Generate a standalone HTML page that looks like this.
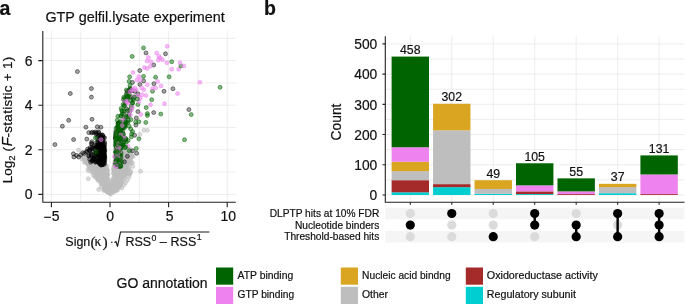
<!DOCTYPE html>
<html><head><meta charset="utf-8"><style>
html,body{margin:0;padding:0;background:#fff;overflow:hidden}
svg{display:block}
text{font-family:"Liberation Sans", sans-serif;fill:#111;stroke:#111;stroke-width:0.2px}
svg{will-change:transform}
</style></head><body>
<svg width="685" height="304" viewBox="0 0 685 304">
<rect x="42.8" y="31.0" width="193.0" height="171.3" fill="#fff"/>
<path d="M51.40 31.0V202.3M80.70 31.0V202.3M110.00 31.0V202.3M139.30 31.0V202.3M168.60 31.0V202.3M197.90 31.0V202.3M227.20 31.0V202.3M42.8 194.40H235.8M42.8 172.10H235.8M42.8 149.80H235.8M42.8 127.50H235.8M42.8 105.20H235.8M42.8 82.90H235.8M42.8 60.60H235.8M42.8 38.30H235.8" stroke="#ebebeb" stroke-width="0.9" fill="none"/>
<g fill="#bebebe" stroke="#bebebe" fill-opacity="0.55" stroke-opacity="0.5" stroke-width="1"><circle cx="100.2" cy="155.8" r="2.0"/><circle cx="116.5" cy="152.3" r="2.0"/><circle cx="105.2" cy="186.5" r="2.0"/><circle cx="90.2" cy="159.1" r="2.0"/><circle cx="126.9" cy="162.1" r="2.0"/><circle cx="115.9" cy="165.9" r="2.0"/><circle cx="118.0" cy="168.4" r="2.0"/><circle cx="99.7" cy="175.5" r="2.0"/><circle cx="96.2" cy="175.0" r="2.0"/><circle cx="110.3" cy="188.6" r="2.0"/><circle cx="120.5" cy="162.0" r="2.0"/><circle cx="104.9" cy="183.3" r="2.0"/><circle cx="122.2" cy="175.0" r="2.0"/><circle cx="127.8" cy="163.2" r="2.0"/><circle cx="118.8" cy="175.9" r="2.0"/><circle cx="107.7" cy="179.1" r="2.0"/><circle cx="125.1" cy="161.9" r="2.0"/><circle cx="103.3" cy="179.3" r="2.0"/><circle cx="90.5" cy="160.2" r="2.0"/><circle cx="111.5" cy="189.0" r="2.0"/><circle cx="97.9" cy="167.8" r="2.0"/><circle cx="92.8" cy="159.5" r="2.0"/><circle cx="95.7" cy="171.0" r="2.0"/><circle cx="102.5" cy="174.7" r="2.0"/><circle cx="117.8" cy="151.4" r="2.0"/><circle cx="103.6" cy="167.1" r="2.0"/><circle cx="94.4" cy="156.4" r="2.0"/><circle cx="101.0" cy="151.4" r="2.0"/><circle cx="89.1" cy="165.5" r="2.0"/><circle cx="96.6" cy="164.7" r="2.0"/><circle cx="102.2" cy="154.6" r="2.0"/><circle cx="107.3" cy="170.9" r="2.0"/><circle cx="101.1" cy="161.0" r="2.0"/><circle cx="125.4" cy="156.3" r="2.0"/><circle cx="110.4" cy="193.3" r="2.0"/><circle cx="97.1" cy="165.6" r="2.0"/><circle cx="110.6" cy="184.3" r="2.0"/><circle cx="100.5" cy="159.1" r="2.0"/><circle cx="95.3" cy="172.4" r="2.0"/><circle cx="101.8" cy="150.3" r="2.0"/><circle cx="95.0" cy="159.3" r="2.0"/><circle cx="93.8" cy="158.3" r="2.0"/><circle cx="115.2" cy="189.8" r="2.0"/><circle cx="126.0" cy="170.7" r="2.0"/><circle cx="116.6" cy="185.2" r="2.0"/><circle cx="121.5" cy="170.7" r="2.0"/><circle cx="120.2" cy="156.7" r="2.0"/><circle cx="101.5" cy="173.9" r="2.0"/><circle cx="110.3" cy="191.3" r="2.0"/><circle cx="105.7" cy="188.5" r="2.0"/><circle cx="125.3" cy="158.6" r="2.0"/><circle cx="96.6" cy="162.3" r="2.0"/><circle cx="96.0" cy="175.6" r="2.0"/><circle cx="97.0" cy="168.0" r="2.0"/><circle cx="101.7" cy="169.8" r="2.0"/><circle cx="113.2" cy="190.0" r="2.0"/><circle cx="92.6" cy="170.4" r="2.0"/><circle cx="120.3" cy="174.2" r="2.0"/><circle cx="100.3" cy="172.5" r="2.0"/><circle cx="111.8" cy="184.5" r="2.0"/><circle cx="96.4" cy="161.5" r="2.0"/><circle cx="122.6" cy="172.0" r="2.0"/><circle cx="114.6" cy="171.9" r="2.0"/><circle cx="106.6" cy="173.2" r="2.0"/><circle cx="107.9" cy="191.7" r="2.0"/><circle cx="112.0" cy="191.7" r="2.0"/><circle cx="126.0" cy="155.2" r="2.0"/><circle cx="87.6" cy="159.9" r="2.0"/><circle cx="117.0" cy="155.5" r="2.0"/><circle cx="103.9" cy="171.1" r="2.0"/><circle cx="92.1" cy="168.5" r="2.0"/><circle cx="93.8" cy="163.4" r="2.0"/><circle cx="120.1" cy="149.9" r="2.0"/><circle cx="115.2" cy="172.2" r="2.0"/><circle cx="89.2" cy="161.0" r="2.0"/><circle cx="97.5" cy="154.9" r="2.0"/><circle cx="124.9" cy="160.7" r="2.0"/><circle cx="112.5" cy="180.7" r="2.0"/><circle cx="118.4" cy="168.3" r="2.0"/><circle cx="115.7" cy="185.3" r="2.0"/><circle cx="111.7" cy="191.0" r="2.0"/><circle cx="97.4" cy="154.9" r="2.0"/><circle cx="99.6" cy="162.8" r="2.0"/><circle cx="122.0" cy="162.1" r="2.0"/><circle cx="101.4" cy="149.8" r="2.0"/><circle cx="96.5" cy="149.7" r="2.0"/><circle cx="120.7" cy="174.0" r="2.0"/><circle cx="93.5" cy="170.5" r="2.0"/><circle cx="130.7" cy="153.8" r="2.0"/><circle cx="124.9" cy="168.6" r="2.0"/><circle cx="108.8" cy="186.8" r="2.0"/><circle cx="103.7" cy="172.0" r="2.0"/><circle cx="119.3" cy="177.8" r="2.0"/><circle cx="104.2" cy="164.7" r="2.0"/><circle cx="96.8" cy="156.4" r="2.0"/><circle cx="98.1" cy="160.0" r="2.0"/><circle cx="98.7" cy="169.8" r="2.0"/><circle cx="91.9" cy="169.2" r="2.0"/><circle cx="99.5" cy="165.2" r="2.0"/><circle cx="94.0" cy="171.9" r="2.0"/><circle cx="99.2" cy="159.5" r="2.0"/><circle cx="113.3" cy="173.0" r="2.0"/><circle cx="121.5" cy="178.8" r="2.0"/><circle cx="103.5" cy="163.8" r="2.0"/><circle cx="120.2" cy="178.1" r="2.0"/><circle cx="109.2" cy="186.8" r="2.0"/><circle cx="113.2" cy="189.4" r="2.0"/><circle cx="118.1" cy="180.4" r="2.0"/><circle cx="90.7" cy="165.3" r="2.0"/><circle cx="115.3" cy="179.8" r="2.0"/><circle cx="117.0" cy="152.0" r="2.0"/><circle cx="120.8" cy="160.4" r="2.0"/><circle cx="87.7" cy="161.0" r="2.0"/><circle cx="120.5" cy="158.3" r="2.0"/><circle cx="108.0" cy="180.0" r="2.0"/><circle cx="122.3" cy="176.9" r="2.0"/><circle cx="116.1" cy="152.5" r="2.0"/><circle cx="91.4" cy="160.5" r="2.0"/><circle cx="121.2" cy="162.8" r="2.0"/><circle cx="87.0" cy="161.2" r="2.0"/><circle cx="117.6" cy="180.4" r="2.0"/><circle cx="117.8" cy="162.2" r="2.0"/><circle cx="128.7" cy="158.0" r="2.0"/><circle cx="125.0" cy="172.0" r="2.0"/><circle cx="91.0" cy="164.6" r="2.0"/><circle cx="126.0" cy="154.4" r="2.0"/><circle cx="129.1" cy="162.1" r="2.0"/><circle cx="102.6" cy="166.8" r="2.0"/><circle cx="102.0" cy="168.4" r="2.0"/><circle cx="97.8" cy="151.2" r="2.0"/><circle cx="96.5" cy="161.0" r="2.0"/><circle cx="115.5" cy="190.4" r="2.0"/><circle cx="120.0" cy="151.2" r="2.0"/><circle cx="120.6" cy="169.4" r="2.0"/><circle cx="121.6" cy="178.2" r="2.0"/><circle cx="98.3" cy="151.2" r="2.0"/><circle cx="130.3" cy="154.8" r="2.0"/><circle cx="116.8" cy="162.6" r="2.0"/><circle cx="92.4" cy="156.3" r="2.0"/><circle cx="101.1" cy="153.1" r="2.0"/><circle cx="96.0" cy="160.7" r="2.0"/><circle cx="112.5" cy="189.2" r="2.0"/><circle cx="121.5" cy="167.7" r="2.0"/><circle cx="104.7" cy="172.7" r="2.0"/><circle cx="102.8" cy="164.3" r="2.0"/><circle cx="87.1" cy="161.6" r="2.0"/><circle cx="127.1" cy="158.8" r="2.0"/><circle cx="97.6" cy="160.3" r="2.0"/><circle cx="104.0" cy="169.2" r="2.0"/><circle cx="127.6" cy="150.0" r="2.0"/><circle cx="116.4" cy="183.6" r="2.0"/><circle cx="106.9" cy="174.0" r="2.0"/><circle cx="116.3" cy="162.8" r="2.0"/><circle cx="90.4" cy="160.4" r="2.0"/><circle cx="115.8" cy="180.6" r="2.0"/><circle cx="103.4" cy="159.1" r="2.0"/><circle cx="99.1" cy="169.9" r="2.0"/><circle cx="95.7" cy="160.2" r="2.0"/><circle cx="99.4" cy="150.0" r="2.0"/><circle cx="105.0" cy="160.7" r="2.0"/><circle cx="100.9" cy="168.1" r="2.0"/><circle cx="118.1" cy="158.0" r="2.0"/><circle cx="125.0" cy="159.5" r="2.0"/><circle cx="95.2" cy="167.9" r="2.0"/><circle cx="91.3" cy="166.8" r="2.0"/><circle cx="121.3" cy="150.4" r="2.0"/><circle cx="117.2" cy="166.2" r="2.0"/><circle cx="102.7" cy="164.0" r="2.0"/><circle cx="98.0" cy="164.9" r="2.0"/><circle cx="125.1" cy="168.6" r="2.0"/><circle cx="93.7" cy="165.5" r="2.0"/><circle cx="128.8" cy="150.4" r="2.0"/><circle cx="104.5" cy="185.8" r="2.0"/><circle cx="122.3" cy="150.8" r="2.0"/><circle cx="130.0" cy="160.6" r="2.0"/><circle cx="101.0" cy="161.3" r="2.0"/><circle cx="99.8" cy="161.5" r="2.0"/><circle cx="95.7" cy="170.5" r="2.0"/><circle cx="103.3" cy="160.4" r="2.0"/><circle cx="105.5" cy="171.4" r="2.0"/><circle cx="130.4" cy="157.3" r="2.0"/><circle cx="114.4" cy="163.8" r="2.0"/><circle cx="100.0" cy="165.4" r="2.0"/><circle cx="123.1" cy="152.6" r="2.0"/><circle cx="96.4" cy="151.9" r="2.0"/><circle cx="97.2" cy="152.8" r="2.0"/><circle cx="119.5" cy="169.2" r="2.0"/><circle cx="95.7" cy="167.9" r="2.0"/><circle cx="115.0" cy="179.5" r="2.0"/><circle cx="117.2" cy="154.5" r="2.0"/><circle cx="126.0" cy="162.3" r="2.0"/><circle cx="120.9" cy="158.0" r="2.0"/><circle cx="96.4" cy="160.1" r="2.0"/><circle cx="107.7" cy="186.1" r="2.0"/><circle cx="90.0" cy="157.6" r="2.0"/><circle cx="127.3" cy="169.3" r="2.0"/><circle cx="113.8" cy="177.1" r="2.0"/><circle cx="94.9" cy="165.7" r="2.0"/><circle cx="91.1" cy="158.2" r="2.0"/><circle cx="96.7" cy="176.2" r="2.0"/><circle cx="116.6" cy="158.2" r="2.0"/><circle cx="117.9" cy="157.4" r="2.0"/><circle cx="99.6" cy="158.2" r="2.0"/><circle cx="123.8" cy="173.8" r="2.0"/><circle cx="103.8" cy="173.9" r="2.0"/><circle cx="116.0" cy="153.1" r="2.0"/><circle cx="104.5" cy="161.8" r="2.0"/><circle cx="99.6" cy="174.7" r="2.0"/><circle cx="101.9" cy="167.9" r="2.0"/><circle cx="102.2" cy="157.9" r="2.0"/><circle cx="120.4" cy="158.2" r="2.0"/><circle cx="105.2" cy="186.2" r="2.0"/><circle cx="116.0" cy="190.2" r="2.0"/><circle cx="102.5" cy="171.9" r="2.0"/><circle cx="91.3" cy="161.8" r="2.0"/><circle cx="110.1" cy="190.9" r="2.0"/><circle cx="125.2" cy="156.3" r="2.0"/><circle cx="123.3" cy="159.1" r="2.0"/><circle cx="104.2" cy="187.3" r="2.0"/><circle cx="125.5" cy="157.3" r="2.0"/><circle cx="94.9" cy="167.1" r="2.0"/><circle cx="90.2" cy="160.2" r="2.0"/><circle cx="121.9" cy="150.7" r="2.0"/><circle cx="125.9" cy="154.3" r="2.0"/><circle cx="114.0" cy="173.9" r="2.0"/><circle cx="115.4" cy="162.9" r="2.0"/><circle cx="105.0" cy="175.4" r="2.0"/><circle cx="105.3" cy="178.8" r="2.0"/><circle cx="106.3" cy="168.9" r="2.0"/><circle cx="90.4" cy="168.5" r="2.0"/><circle cx="115.8" cy="152.7" r="2.0"/><circle cx="120.7" cy="184.2" r="2.0"/><circle cx="108.6" cy="192.3" r="2.0"/><circle cx="129.8" cy="156.5" r="2.0"/><circle cx="121.8" cy="156.2" r="2.0"/><circle cx="128.8" cy="161.5" r="2.0"/><circle cx="124.8" cy="155.5" r="2.0"/><circle cx="109.1" cy="190.7" r="2.0"/><circle cx="94.4" cy="160.9" r="2.0"/><circle cx="115.8" cy="165.3" r="2.0"/><circle cx="113.0" cy="189.0" r="2.0"/><circle cx="115.5" cy="166.9" r="2.0"/><circle cx="123.9" cy="161.0" r="2.0"/><circle cx="102.0" cy="183.6" r="2.0"/><circle cx="121.2" cy="151.2" r="2.0"/><circle cx="125.0" cy="160.5" r="2.0"/><circle cx="113.3" cy="179.1" r="2.0"/><circle cx="99.6" cy="149.1" r="2.0"/><circle cx="114.8" cy="168.6" r="2.0"/><circle cx="109.6" cy="189.6" r="2.0"/><circle cx="90.6" cy="159.3" r="2.0"/><circle cx="116.7" cy="150.0" r="2.0"/><circle cx="89.3" cy="165.2" r="2.0"/><circle cx="95.2" cy="175.4" r="2.0"/><circle cx="115.2" cy="170.5" r="2.0"/><circle cx="96.2" cy="155.8" r="2.0"/><circle cx="104.1" cy="161.0" r="2.0"/><circle cx="116.3" cy="169.1" r="2.0"/><circle cx="104.3" cy="159.8" r="2.0"/><circle cx="124.7" cy="156.9" r="2.0"/><circle cx="99.5" cy="162.6" r="2.0"/><circle cx="121.3" cy="170.1" r="2.0"/><circle cx="121.1" cy="169.5" r="2.0"/><circle cx="100.8" cy="183.0" r="2.0"/><circle cx="118.8" cy="187.3" r="2.0"/><circle cx="119.6" cy="161.0" r="2.0"/><circle cx="123.4" cy="172.7" r="2.0"/><circle cx="97.3" cy="178.1" r="2.0"/><circle cx="128.0" cy="149.7" r="2.0"/><circle cx="97.0" cy="159.7" r="2.0"/><circle cx="121.3" cy="163.8" r="2.0"/><circle cx="128.0" cy="163.9" r="2.0"/><circle cx="115.5" cy="180.4" r="2.0"/><circle cx="107.5" cy="187.0" r="2.0"/><circle cx="105.9" cy="181.8" r="2.0"/><circle cx="101.2" cy="155.4" r="2.0"/><circle cx="118.6" cy="177.7" r="2.0"/><circle cx="118.9" cy="182.4" r="2.0"/><circle cx="89.4" cy="158.3" r="2.0"/><circle cx="115.7" cy="186.4" r="2.0"/><circle cx="115.6" cy="162.0" r="2.0"/><circle cx="121.9" cy="158.3" r="2.0"/><circle cx="100.0" cy="168.2" r="2.0"/><circle cx="102.4" cy="163.5" r="2.0"/><circle cx="105.8" cy="184.0" r="2.0"/><circle cx="101.3" cy="180.9" r="2.0"/><circle cx="127.1" cy="153.1" r="2.0"/><circle cx="125.0" cy="156.7" r="2.0"/><circle cx="108.6" cy="185.1" r="2.0"/><circle cx="93.2" cy="171.4" r="2.0"/><circle cx="98.2" cy="158.7" r="2.0"/><circle cx="119.0" cy="171.6" r="2.0"/><circle cx="118.9" cy="184.6" r="2.0"/><circle cx="115.4" cy="165.1" r="2.0"/><circle cx="104.1" cy="166.9" r="2.0"/><circle cx="128.5" cy="152.9" r="2.0"/><circle cx="128.4" cy="150.1" r="2.0"/><circle cx="94.3" cy="160.9" r="2.0"/><circle cx="95.7" cy="169.9" r="2.0"/><circle cx="121.6" cy="178.3" r="2.0"/><circle cx="101.4" cy="163.8" r="2.0"/><circle cx="117.1" cy="182.6" r="2.0"/><circle cx="92.5" cy="168.9" r="2.0"/><circle cx="122.7" cy="175.2" r="2.0"/><circle cx="128.3" cy="159.8" r="2.0"/><circle cx="93.6" cy="162.7" r="2.0"/><circle cx="119.2" cy="187.2" r="2.0"/><circle cx="96.4" cy="163.8" r="2.0"/><circle cx="100.4" cy="157.6" r="2.0"/><circle cx="89.1" cy="166.4" r="2.0"/><circle cx="120.7" cy="168.7" r="2.0"/><circle cx="89.3" cy="158.4" r="2.0"/><circle cx="103.4" cy="150.5" r="2.0"/><circle cx="104.0" cy="184.8" r="2.0"/><circle cx="118.7" cy="171.7" r="2.0"/><circle cx="115.6" cy="170.0" r="2.0"/><circle cx="104.2" cy="182.6" r="2.0"/><circle cx="112.7" cy="182.9" r="2.0"/><circle cx="105.1" cy="159.4" r="2.0"/><circle cx="122.7" cy="180.7" r="2.0"/><circle cx="116.1" cy="169.6" r="2.0"/><circle cx="99.7" cy="177.5" r="2.0"/><circle cx="115.5" cy="160.3" r="2.0"/><circle cx="105.2" cy="169.6" r="2.0"/><circle cx="115.1" cy="167.5" r="2.0"/><circle cx="122.9" cy="166.6" r="2.0"/><circle cx="125.4" cy="172.6" r="2.0"/><circle cx="103.6" cy="183.6" r="2.0"/><circle cx="101.8" cy="151.6" r="2.0"/><circle cx="97.7" cy="167.1" r="2.0"/><circle cx="105.0" cy="180.6" r="2.0"/><circle cx="101.6" cy="161.0" r="2.0"/><circle cx="103.6" cy="158.6" r="2.0"/><circle cx="107.5" cy="174.5" r="2.0"/><circle cx="101.7" cy="177.9" r="2.0"/><circle cx="125.7" cy="165.1" r="2.0"/><circle cx="126.5" cy="161.1" r="2.0"/><circle cx="102.8" cy="160.5" r="2.0"/><circle cx="105.3" cy="157.4" r="2.0"/><circle cx="98.1" cy="160.1" r="2.0"/><circle cx="99.1" cy="170.7" r="2.0"/><circle cx="105.4" cy="177.9" r="2.0"/><circle cx="117.0" cy="165.4" r="2.0"/><circle cx="115.7" cy="149.7" r="2.0"/><circle cx="116.8" cy="160.3" r="2.0"/><circle cx="101.3" cy="155.9" r="2.0"/><circle cx="114.4" cy="184.4" r="2.0"/><circle cx="105.9" cy="189.0" r="2.0"/><circle cx="95.7" cy="155.3" r="2.0"/><circle cx="111.0" cy="188.1" r="2.0"/><circle cx="107.4" cy="174.5" r="2.0"/><circle cx="117.3" cy="187.1" r="2.0"/><circle cx="102.7" cy="168.0" r="2.0"/><circle cx="115.9" cy="177.8" r="2.0"/><circle cx="128.9" cy="150.5" r="2.0"/><circle cx="119.9" cy="177.3" r="2.0"/><circle cx="102.3" cy="170.5" r="2.0"/><circle cx="110.3" cy="183.9" r="2.0"/><circle cx="94.5" cy="168.7" r="2.0"/><circle cx="105.1" cy="174.1" r="2.0"/><circle cx="125.3" cy="162.3" r="2.0"/><circle cx="125.4" cy="167.3" r="2.0"/><circle cx="109.3" cy="193.2" r="2.0"/><circle cx="116.7" cy="184.9" r="2.0"/><circle cx="100.5" cy="163.4" r="2.0"/><circle cx="99.0" cy="175.6" r="2.0"/><circle cx="115.7" cy="184.5" r="2.0"/><circle cx="86.5" cy="162.6" r="2.0"/><circle cx="116.9" cy="184.7" r="2.0"/><circle cx="114.8" cy="177.4" r="2.0"/><circle cx="118.8" cy="176.0" r="2.0"/><circle cx="118.0" cy="158.6" r="2.0"/><circle cx="117.4" cy="169.7" r="2.0"/><circle cx="122.1" cy="153.6" r="2.0"/><circle cx="116.8" cy="165.7" r="2.0"/><circle cx="99.1" cy="168.1" r="2.0"/><circle cx="99.9" cy="168.5" r="2.0"/><circle cx="124.5" cy="175.1" r="2.0"/><circle cx="113.6" cy="191.5" r="2.0"/><circle cx="104.6" cy="153.6" r="2.0"/><circle cx="116.2" cy="158.6" r="2.0"/><circle cx="120.0" cy="160.0" r="2.0"/><circle cx="120.7" cy="157.5" r="2.0"/><circle cx="120.5" cy="152.8" r="2.0"/><circle cx="115.4" cy="181.1" r="2.0"/><circle cx="119.9" cy="149.5" r="2.0"/><circle cx="124.9" cy="152.6" r="2.0"/><circle cx="102.4" cy="175.0" r="2.0"/><circle cx="105.9" cy="179.7" r="2.0"/><circle cx="102.2" cy="178.2" r="2.0"/><circle cx="115.5" cy="167.9" r="2.0"/><circle cx="103.3" cy="184.6" r="2.0"/><circle cx="119.2" cy="186.5" r="2.0"/><circle cx="100.6" cy="176.4" r="2.0"/><circle cx="102.8" cy="180.0" r="2.0"/><circle cx="114.1" cy="189.6" r="2.0"/><circle cx="124.4" cy="161.8" r="2.0"/><circle cx="105.1" cy="175.6" r="2.0"/><circle cx="101.3" cy="152.9" r="2.0"/><circle cx="111.7" cy="185.1" r="2.0"/><circle cx="130.6" cy="159.6" r="2.0"/><circle cx="114.3" cy="179.7" r="2.0"/><circle cx="123.6" cy="169.8" r="2.0"/><circle cx="122.6" cy="159.5" r="2.0"/><circle cx="113.0" cy="189.6" r="2.0"/><circle cx="93.5" cy="157.7" r="2.0"/><circle cx="102.1" cy="174.6" r="2.0"/><circle cx="104.1" cy="172.4" r="2.0"/><circle cx="123.4" cy="156.1" r="2.0"/><circle cx="127.3" cy="171.0" r="2.0"/><circle cx="123.0" cy="168.3" r="2.0"/><circle cx="96.7" cy="150.7" r="2.0"/><circle cx="94.0" cy="157.2" r="2.0"/><circle cx="111.9" cy="188.4" r="2.0"/><circle cx="129.5" cy="151.9" r="2.0"/><circle cx="113.9" cy="167.0" r="2.0"/><circle cx="96.9" cy="174.6" r="2.0"/><circle cx="117.5" cy="166.8" r="2.0"/><circle cx="96.8" cy="164.9" r="2.0"/><circle cx="125.9" cy="151.1" r="2.0"/><circle cx="117.8" cy="162.5" r="2.0"/><circle cx="113.6" cy="183.3" r="2.0"/><circle cx="89.3" cy="163.7" r="2.0"/><circle cx="96.9" cy="154.6" r="2.0"/><circle cx="95.9" cy="155.5" r="2.0"/><circle cx="117.9" cy="149.6" r="2.0"/><circle cx="119.9" cy="157.8" r="2.0"/><circle cx="91.0" cy="169.3" r="2.0"/><circle cx="125.2" cy="170.6" r="2.0"/><circle cx="115.4" cy="155.5" r="2.0"/><circle cx="119.7" cy="174.1" r="2.0"/><circle cx="97.3" cy="167.7" r="2.0"/><circle cx="91.8" cy="161.3" r="2.0"/><circle cx="126.0" cy="164.2" r="2.0"/><circle cx="92.4" cy="171.2" r="2.0"/><circle cx="117.4" cy="158.6" r="2.0"/><circle cx="96.9" cy="158.1" r="2.0"/><circle cx="88.9" cy="162.1" r="2.0"/><circle cx="128.8" cy="151.6" r="2.0"/><circle cx="120.3" cy="162.3" r="2.0"/><circle cx="124.4" cy="164.4" r="2.0"/><circle cx="125.6" cy="172.9" r="2.0"/><circle cx="93.3" cy="168.7" r="2.0"/><circle cx="129.6" cy="158.9" r="2.0"/><circle cx="119.6" cy="157.9" r="2.0"/><circle cx="114.4" cy="171.4" r="2.0"/><circle cx="97.7" cy="158.3" r="2.0"/><circle cx="114.6" cy="181.1" r="2.0"/><circle cx="124.6" cy="175.4" r="2.0"/><circle cx="120.6" cy="167.5" r="2.0"/><circle cx="120.1" cy="151.5" r="2.0"/><circle cx="124.5" cy="164.2" r="2.0"/><circle cx="127.6" cy="161.1" r="2.0"/><circle cx="102.4" cy="156.4" r="2.0"/><circle cx="102.6" cy="175.9" r="2.0"/><circle cx="106.3" cy="172.4" r="2.0"/><circle cx="100.0" cy="181.2" r="2.0"/><circle cx="103.1" cy="183.0" r="2.0"/><circle cx="118.9" cy="157.8" r="2.0"/><circle cx="119.1" cy="153.7" r="2.0"/><circle cx="98.0" cy="154.5" r="2.0"/><circle cx="104.3" cy="155.2" r="2.0"/><circle cx="113.6" cy="188.0" r="2.0"/><circle cx="121.3" cy="156.4" r="2.0"/><circle cx="103.4" cy="168.0" r="2.0"/><circle cx="126.0" cy="172.8" r="2.0"/><circle cx="122.8" cy="164.3" r="2.0"/><circle cx="96.0" cy="164.2" r="2.0"/><circle cx="96.5" cy="168.1" r="2.0"/><circle cx="115.6" cy="165.5" r="2.0"/><circle cx="105.7" cy="171.9" r="2.0"/><circle cx="128.2" cy="150.6" r="2.0"/><circle cx="116.1" cy="161.0" r="2.0"/><circle cx="117.9" cy="161.4" r="2.0"/><circle cx="111.1" cy="190.9" r="2.0"/><circle cx="115.1" cy="160.4" r="2.0"/><circle cx="99.3" cy="178.3" r="2.0"/><circle cx="97.4" cy="170.1" r="2.0"/><circle cx="98.7" cy="167.4" r="2.0"/><circle cx="98.4" cy="160.0" r="2.0"/><circle cx="107.0" cy="173.8" r="2.0"/><circle cx="114.6" cy="170.2" r="2.0"/><circle cx="99.5" cy="160.0" r="2.0"/><circle cx="95.1" cy="172.2" r="2.0"/><circle cx="103.2" cy="175.5" r="2.0"/><circle cx="127.1" cy="159.8" r="2.0"/><circle cx="127.6" cy="168.9" r="2.0"/><circle cx="106.0" cy="182.3" r="2.0"/><circle cx="89.5" cy="159.2" r="2.0"/><circle cx="91.7" cy="164.3" r="2.0"/><circle cx="101.6" cy="179.6" r="2.0"/><circle cx="114.8" cy="187.5" r="2.0"/><circle cx="125.1" cy="172.5" r="2.0"/><circle cx="120.9" cy="182.7" r="2.0"/><circle cx="122.0" cy="170.5" r="2.0"/><circle cx="129.7" cy="154.8" r="2.0"/><circle cx="127.5" cy="149.2" r="2.0"/><circle cx="122.3" cy="175.5" r="2.0"/><circle cx="108.9" cy="192.6" r="2.0"/><circle cx="114.4" cy="166.2" r="2.0"/><circle cx="106.6" cy="169.7" r="2.0"/><circle cx="120.2" cy="162.3" r="2.0"/><circle cx="103.5" cy="174.2" r="2.0"/><circle cx="103.2" cy="163.6" r="2.0"/><circle cx="93.2" cy="162.8" r="2.0"/><circle cx="118.3" cy="166.6" r="2.0"/><circle cx="101.9" cy="175.9" r="2.0"/><circle cx="117.8" cy="172.8" r="2.0"/><circle cx="88.9" cy="166.0" r="2.0"/><circle cx="104.0" cy="174.4" r="2.0"/><circle cx="112.7" cy="188.9" r="2.0"/><circle cx="106.0" cy="177.3" r="2.0"/><circle cx="110.5" cy="186.0" r="2.0"/><circle cx="92.5" cy="163.4" r="2.0"/><circle cx="128.4" cy="168.1" r="2.0"/><circle cx="91.8" cy="162.1" r="2.0"/><circle cx="93.4" cy="157.3" r="2.0"/><circle cx="115.5" cy="176.3" r="2.0"/><circle cx="115.8" cy="150.9" r="2.0"/><circle cx="104.6" cy="184.7" r="2.0"/><circle cx="99.3" cy="180.3" r="2.0"/><circle cx="117.4" cy="157.9" r="2.0"/><circle cx="97.3" cy="178.3" r="2.0"/><circle cx="110.6" cy="194.2" r="2.0"/><circle cx="122.0" cy="153.8" r="2.0"/><circle cx="110.1" cy="186.3" r="2.0"/><circle cx="114.7" cy="185.5" r="2.0"/><circle cx="122.5" cy="163.6" r="2.0"/><circle cx="119.8" cy="165.0" r="2.0"/><circle cx="92.5" cy="161.1" r="2.0"/><circle cx="106.5" cy="166.5" r="2.0"/><circle cx="113.1" cy="192.5" r="2.0"/><circle cx="106.0" cy="177.1" r="2.0"/><circle cx="96.5" cy="151.0" r="2.0"/><circle cx="124.8" cy="162.8" r="2.0"/><circle cx="108.8" cy="192.0" r="2.0"/><circle cx="96.1" cy="166.7" r="2.0"/><circle cx="119.9" cy="159.0" r="2.0"/><circle cx="108.2" cy="184.9" r="2.0"/><circle cx="96.2" cy="156.9" r="2.0"/><circle cx="101.9" cy="157.5" r="2.0"/><circle cx="104.2" cy="152.0" r="2.0"/><circle cx="101.6" cy="160.1" r="2.0"/><circle cx="93.6" cy="161.8" r="2.0"/><circle cx="117.2" cy="164.5" r="2.0"/><circle cx="88.6" cy="161.2" r="2.0"/><circle cx="125.8" cy="154.8" r="2.0"/><circle cx="106.2" cy="186.9" r="2.0"/><circle cx="124.2" cy="156.2" r="2.0"/><circle cx="101.6" cy="181.7" r="2.0"/><circle cx="119.3" cy="160.8" r="2.0"/><circle cx="102.4" cy="160.2" r="2.0"/><circle cx="127.6" cy="154.6" r="2.0"/><circle cx="103.2" cy="178.8" r="2.0"/><circle cx="103.5" cy="152.9" r="2.0"/><circle cx="100.1" cy="179.0" r="2.0"/><circle cx="102.1" cy="171.7" r="2.0"/><circle cx="98.8" cy="152.0" r="2.0"/><circle cx="99.6" cy="159.3" r="2.0"/><circle cx="98.1" cy="167.3" r="2.0"/><circle cx="90.6" cy="161.5" r="2.0"/><circle cx="117.2" cy="164.9" r="2.0"/><circle cx="104.6" cy="178.9" r="2.0"/><circle cx="119.0" cy="160.3" r="2.0"/><circle cx="126.3" cy="165.0" r="2.0"/><circle cx="115.4" cy="157.2" r="2.0"/><circle cx="120.7" cy="181.3" r="2.0"/><circle cx="92.1" cy="158.0" r="2.0"/><circle cx="99.2" cy="166.2" r="2.0"/><circle cx="115.9" cy="157.1" r="2.0"/><circle cx="119.8" cy="160.5" r="2.0"/><circle cx="105.7" cy="180.0" r="2.0"/><circle cx="101.5" cy="149.0" r="2.0"/><circle cx="98.3" cy="150.9" r="2.0"/><circle cx="86.4" cy="160.1" r="2.0"/><circle cx="121.5" cy="152.9" r="2.0"/><circle cx="118.7" cy="166.8" r="2.0"/><circle cx="98.1" cy="153.1" r="2.0"/><circle cx="115.4" cy="169.5" r="2.0"/><circle cx="105.4" cy="172.2" r="2.0"/><circle cx="130.4" cy="154.8" r="2.0"/><circle cx="122.1" cy="151.0" r="2.0"/><circle cx="119.1" cy="185.5" r="2.0"/><circle cx="97.1" cy="173.8" r="2.0"/><circle cx="104.6" cy="158.1" r="2.0"/><circle cx="99.5" cy="155.2" r="2.0"/><circle cx="119.3" cy="179.4" r="2.0"/><circle cx="95.9" cy="159.9" r="2.0"/><circle cx="113.9" cy="169.9" r="2.0"/><circle cx="89.7" cy="162.1" r="2.0"/><circle cx="102.0" cy="158.4" r="2.0"/><circle cx="87.0" cy="161.7" r="2.0"/><circle cx="100.2" cy="170.2" r="2.0"/><circle cx="102.1" cy="156.6" r="2.0"/><circle cx="116.6" cy="160.4" r="2.0"/><circle cx="96.3" cy="155.3" r="2.0"/><circle cx="126.0" cy="162.4" r="2.0"/><circle cx="100.3" cy="157.4" r="2.0"/><circle cx="125.3" cy="163.5" r="2.0"/><circle cx="102.4" cy="174.0" r="2.0"/><circle cx="91.9" cy="162.6" r="2.0"/><circle cx="118.4" cy="156.4" r="2.0"/><circle cx="120.1" cy="149.1" r="2.0"/><circle cx="123.3" cy="168.3" r="2.0"/><circle cx="98.2" cy="179.0" r="2.0"/><circle cx="100.9" cy="168.9" r="2.0"/><circle cx="117.3" cy="186.4" r="2.0"/><circle cx="129.2" cy="156.5" r="2.0"/><circle cx="98.8" cy="169.1" r="2.0"/><circle cx="100.2" cy="169.9" r="2.0"/><circle cx="124.6" cy="151.7" r="2.0"/><circle cx="117.8" cy="176.6" r="2.0"/><circle cx="98.9" cy="174.9" r="2.0"/><circle cx="116.4" cy="162.6" r="2.0"/><circle cx="117.9" cy="169.3" r="2.0"/><circle cx="102.6" cy="175.3" r="2.0"/><circle cx="104.8" cy="173.0" r="2.0"/><circle cx="89.7" cy="157.2" r="2.0"/><circle cx="96.7" cy="153.3" r="2.0"/><circle cx="95.3" cy="174.9" r="2.0"/><circle cx="104.4" cy="152.3" r="2.0"/><circle cx="106.0" cy="188.1" r="2.0"/><circle cx="121.8" cy="154.2" r="2.0"/><circle cx="103.6" cy="156.8" r="2.0"/><circle cx="122.7" cy="155.2" r="2.0"/><circle cx="122.8" cy="151.6" r="2.0"/><circle cx="95.8" cy="165.9" r="2.0"/><circle cx="94.7" cy="162.6" r="2.0"/><circle cx="119.4" cy="168.3" r="2.0"/><circle cx="118.0" cy="186.4" r="2.0"/><circle cx="90.1" cy="165.9" r="2.0"/><circle cx="120.1" cy="151.0" r="2.0"/><circle cx="111.4" cy="185.4" r="2.0"/><circle cx="117.8" cy="160.5" r="2.0"/><circle cx="93.7" cy="169.2" r="2.0"/><circle cx="98.5" cy="180.1" r="2.0"/><circle cx="103.0" cy="155.5" r="2.0"/><circle cx="118.5" cy="185.6" r="2.0"/><circle cx="101.1" cy="155.8" r="2.0"/><circle cx="109.1" cy="188.5" r="2.0"/><circle cx="124.0" cy="150.6" r="2.0"/><circle cx="118.0" cy="166.8" r="2.0"/><circle cx="126.3" cy="166.8" r="2.0"/><circle cx="87.8" cy="163.9" r="2.0"/><circle cx="92.5" cy="165.4" r="2.0"/><circle cx="107.4" cy="175.1" r="2.0"/><circle cx="103.4" cy="165.0" r="2.0"/><circle cx="100.7" cy="149.9" r="2.0"/><circle cx="117.5" cy="161.4" r="2.0"/><circle cx="97.7" cy="171.7" r="2.0"/><circle cx="97.1" cy="174.8" r="2.0"/><circle cx="110.4" cy="192.4" r="2.0"/><circle cx="112.0" cy="183.9" r="2.0"/><circle cx="115.7" cy="177.7" r="2.0"/><circle cx="102.1" cy="161.8" r="2.0"/><circle cx="121.0" cy="172.1" r="2.0"/><circle cx="115.8" cy="164.9" r="2.0"/><circle cx="96.2" cy="159.6" r="2.0"/><circle cx="101.5" cy="155.1" r="2.0"/><circle cx="106.7" cy="169.2" r="2.0"/><circle cx="99.1" cy="163.0" r="2.0"/><circle cx="120.3" cy="174.0" r="2.0"/><circle cx="101.8" cy="184.1" r="2.0"/><circle cx="105.4" cy="188.3" r="2.0"/><circle cx="129.0" cy="161.5" r="2.0"/><circle cx="96.9" cy="150.0" r="2.0"/><circle cx="92.2" cy="161.1" r="2.0"/><circle cx="119.2" cy="158.9" r="2.0"/><circle cx="104.0" cy="158.1" r="2.0"/><circle cx="114.1" cy="188.1" r="2.0"/><circle cx="116.4" cy="157.9" r="2.0"/><circle cx="101.1" cy="155.2" r="2.0"/><circle cx="130.1" cy="158.6" r="2.0"/><circle cx="116.4" cy="167.4" r="2.0"/><circle cx="117.9" cy="164.3" r="2.0"/><circle cx="100.7" cy="171.4" r="2.0"/><circle cx="114.7" cy="181.8" r="2.0"/><circle cx="100.5" cy="153.2" r="2.0"/><circle cx="122.4" cy="153.1" r="2.0"/><circle cx="124.7" cy="168.2" r="2.0"/><circle cx="121.1" cy="160.7" r="2.0"/><circle cx="119.6" cy="183.6" r="2.0"/><circle cx="122.8" cy="163.0" r="2.0"/><circle cx="110.2" cy="191.6" r="2.0"/><circle cx="107.8" cy="178.7" r="2.0"/><circle cx="122.7" cy="165.4" r="2.0"/><circle cx="121.8" cy="153.1" r="2.0"/><circle cx="91.5" cy="157.0" r="2.0"/><circle cx="122.9" cy="160.0" r="2.0"/><circle cx="115.8" cy="164.6" r="2.0"/><circle cx="124.0" cy="169.8" r="2.0"/><circle cx="95.2" cy="160.4" r="2.0"/><circle cx="97.1" cy="168.7" r="2.0"/><circle cx="95.6" cy="158.2" r="2.0"/><circle cx="122.0" cy="178.1" r="2.0"/><circle cx="94.8" cy="174.8" r="2.0"/><circle cx="127.5" cy="161.1" r="2.0"/><circle cx="98.1" cy="164.0" r="2.0"/><circle cx="108.3" cy="189.4" r="2.0"/><circle cx="113.9" cy="169.5" r="2.0"/><circle cx="113.0" cy="189.0" r="2.0"/><circle cx="102.0" cy="184.3" r="2.0"/><circle cx="127.2" cy="157.3" r="2.0"/><circle cx="98.9" cy="150.1" r="2.0"/><circle cx="118.1" cy="153.1" r="2.0"/><circle cx="118.5" cy="150.7" r="2.0"/><circle cx="90.8" cy="168.4" r="2.0"/><circle cx="101.7" cy="171.5" r="2.0"/><circle cx="97.6" cy="157.0" r="2.0"/><circle cx="97.2" cy="152.1" r="2.0"/><circle cx="104.4" cy="174.2" r="2.0"/><circle cx="102.1" cy="149.5" r="2.0"/><circle cx="118.4" cy="178.6" r="2.0"/><circle cx="104.0" cy="163.4" r="2.0"/><circle cx="103.4" cy="166.5" r="2.0"/><circle cx="104.5" cy="155.5" r="2.0"/><circle cx="114.4" cy="191.0" r="2.0"/><circle cx="96.7" cy="176.7" r="2.0"/><circle cx="102.8" cy="159.9" r="2.0"/><circle cx="129.4" cy="151.2" r="2.0"/><circle cx="118.7" cy="163.7" r="2.0"/><circle cx="116.3" cy="173.9" r="2.0"/><circle cx="126.7" cy="172.1" r="2.0"/><circle cx="121.2" cy="166.2" r="2.0"/><circle cx="119.6" cy="166.8" r="2.0"/><circle cx="117.9" cy="163.6" r="2.0"/><circle cx="115.4" cy="173.6" r="2.0"/><circle cx="107.7" cy="181.7" r="2.0"/><circle cx="95.1" cy="155.4" r="2.0"/><circle cx="124.7" cy="159.8" r="2.0"/><circle cx="107.0" cy="178.0" r="2.0"/><circle cx="127.4" cy="151.0" r="2.0"/><circle cx="124.9" cy="154.6" r="2.0"/><circle cx="91.7" cy="160.4" r="2.0"/><circle cx="89.1" cy="165.2" r="2.0"/><circle cx="124.2" cy="172.6" r="2.0"/><circle cx="118.8" cy="169.4" r="2.0"/><circle cx="107.9" cy="185.2" r="2.0"/><circle cx="121.9" cy="155.8" r="2.0"/><circle cx="118.0" cy="165.6" r="2.0"/><circle cx="102.5" cy="164.4" r="2.0"/><circle cx="103.1" cy="149.8" r="2.0"/><circle cx="119.9" cy="161.4" r="2.0"/><circle cx="100.2" cy="160.0" r="2.0"/><circle cx="125.7" cy="153.1" r="2.0"/><circle cx="115.8" cy="187.9" r="2.0"/><circle cx="94.1" cy="168.2" r="2.0"/><circle cx="123.6" cy="177.0" r="2.0"/><circle cx="102.6" cy="151.0" r="2.0"/><circle cx="106.1" cy="165.6" r="2.0"/><circle cx="119.6" cy="162.4" r="2.0"/><circle cx="104.4" cy="178.4" r="2.0"/><circle cx="124.5" cy="165.0" r="2.0"/><circle cx="103.3" cy="175.2" r="2.0"/><circle cx="130.2" cy="157.7" r="2.0"/><circle cx="102.6" cy="179.2" r="2.0"/><circle cx="100.5" cy="152.2" r="2.0"/><circle cx="121.8" cy="166.2" r="2.0"/><circle cx="107.1" cy="169.9" r="2.0"/><circle cx="126.0" cy="167.8" r="2.0"/><circle cx="107.7" cy="189.3" r="2.0"/><circle cx="106.0" cy="171.3" r="2.0"/><circle cx="109.6" cy="186.4" r="2.0"/><circle cx="117.5" cy="182.5" r="2.0"/><circle cx="104.1" cy="150.8" r="2.0"/><circle cx="118.0" cy="174.1" r="2.0"/><circle cx="89.9" cy="159.0" r="2.0"/><circle cx="121.7" cy="174.6" r="2.0"/><circle cx="119.6" cy="170.9" r="2.0"/><circle cx="104.9" cy="175.5" r="2.0"/><circle cx="127.6" cy="155.6" r="2.0"/><circle cx="100.7" cy="172.5" r="2.0"/><circle cx="97.7" cy="160.9" r="2.0"/><circle cx="99.7" cy="160.6" r="2.0"/><circle cx="86.6" cy="162.8" r="2.0"/><circle cx="126.8" cy="160.6" r="2.0"/><circle cx="107.2" cy="171.2" r="2.0"/><circle cx="124.1" cy="158.1" r="2.0"/><circle cx="124.1" cy="175.8" r="2.0"/><circle cx="106.2" cy="188.8" r="2.0"/><circle cx="116.0" cy="151.2" r="2.0"/><circle cx="127.1" cy="152.3" r="2.0"/><circle cx="124.0" cy="171.6" r="2.0"/><circle cx="117.7" cy="179.6" r="2.0"/><circle cx="98.7" cy="158.6" r="2.0"/><circle cx="125.9" cy="155.6" r="2.0"/><circle cx="129.9" cy="158.4" r="2.0"/><circle cx="104.7" cy="178.8" r="2.0"/><circle cx="118.3" cy="156.0" r="2.0"/><circle cx="98.7" cy="159.5" r="2.0"/><circle cx="129.6" cy="163.7" r="2.0"/><circle cx="126.1" cy="155.9" r="2.0"/><circle cx="103.6" cy="150.5" r="2.0"/><circle cx="103.0" cy="178.0" r="2.0"/><circle cx="95.2" cy="173.7" r="2.0"/><circle cx="120.4" cy="168.5" r="2.0"/><circle cx="117.9" cy="154.2" r="2.0"/><circle cx="125.4" cy="154.5" r="2.0"/><circle cx="98.5" cy="164.8" r="2.0"/><circle cx="121.5" cy="171.5" r="2.0"/><circle cx="130.5" cy="153.2" r="2.0"/><circle cx="108.2" cy="188.1" r="2.0"/><circle cx="113.9" cy="173.5" r="2.0"/><circle cx="126.3" cy="159.3" r="2.0"/><circle cx="130.2" cy="150.5" r="2.0"/><circle cx="116.8" cy="151.3" r="2.0"/><circle cx="100.7" cy="169.4" r="2.0"/><circle cx="98.9" cy="152.1" r="2.0"/><circle cx="111.6" cy="184.7" r="2.0"/><circle cx="113.8" cy="169.9" r="2.0"/><circle cx="101.6" cy="166.0" r="2.0"/><circle cx="117.2" cy="156.4" r="2.0"/><circle cx="127.7" cy="170.8" r="2.0"/><circle cx="128.0" cy="154.3" r="2.0"/><circle cx="93.9" cy="167.3" r="2.0"/><circle cx="109.1" cy="189.3" r="2.0"/><circle cx="108.4" cy="184.8" r="2.0"/><circle cx="112.5" cy="180.2" r="2.0"/><circle cx="91.7" cy="161.0" r="2.0"/><circle cx="128.5" cy="152.8" r="2.0"/><circle cx="113.8" cy="184.5" r="2.0"/><circle cx="119.5" cy="151.8" r="2.0"/><circle cx="96.3" cy="176.1" r="2.0"/><circle cx="114.9" cy="180.3" r="2.0"/><circle cx="124.7" cy="164.5" r="2.0"/><circle cx="124.5" cy="169.9" r="2.0"/><circle cx="130.0" cy="149.5" r="2.0"/><circle cx="104.4" cy="153.0" r="2.0"/><circle cx="117.9" cy="155.9" r="2.0"/><circle cx="101.2" cy="155.4" r="2.0"/><circle cx="93.9" cy="158.9" r="2.0"/><circle cx="121.6" cy="177.8" r="2.0"/><circle cx="101.5" cy="156.3" r="2.0"/><circle cx="121.3" cy="155.1" r="2.0"/><circle cx="113.5" cy="168.7" r="2.0"/><circle cx="127.5" cy="162.5" r="2.0"/><circle cx="95.6" cy="158.0" r="2.0"/><circle cx="108.6" cy="190.1" r="2.0"/><circle cx="118.3" cy="181.2" r="2.0"/><circle cx="103.6" cy="184.5" r="2.0"/><circle cx="104.3" cy="152.9" r="2.0"/><circle cx="116.6" cy="186.9" r="2.0"/><circle cx="101.0" cy="175.9" r="2.0"/><circle cx="124.6" cy="168.0" r="2.0"/><circle cx="114.2" cy="169.7" r="2.0"/><circle cx="100.8" cy="158.7" r="2.0"/><circle cx="115.0" cy="162.2" r="2.0"/><circle cx="88.4" cy="161.3" r="2.0"/><circle cx="119.1" cy="169.0" r="2.0"/><circle cx="117.0" cy="185.6" r="2.0"/><circle cx="93.2" cy="161.3" r="2.0"/><circle cx="114.5" cy="189.5" r="2.0"/><circle cx="103.7" cy="171.6" r="2.0"/><circle cx="125.5" cy="156.3" r="2.0"/><circle cx="106.7" cy="185.7" r="2.0"/><circle cx="96.5" cy="165.0" r="2.0"/><circle cx="102.1" cy="179.0" r="2.0"/><circle cx="115.6" cy="166.0" r="2.0"/><circle cx="118.2" cy="174.3" r="2.0"/><circle cx="106.4" cy="183.0" r="2.0"/><circle cx="121.5" cy="150.6" r="2.0"/><circle cx="100.3" cy="155.2" r="2.0"/><circle cx="103.6" cy="182.9" r="2.0"/><circle cx="116.1" cy="161.7" r="2.0"/><circle cx="122.1" cy="162.2" r="2.0"/><circle cx="119.5" cy="180.3" r="2.0"/><circle cx="97.9" cy="156.3" r="2.0"/><circle cx="112.8" cy="186.4" r="2.0"/><circle cx="123.7" cy="164.7" r="2.0"/><circle cx="127.9" cy="156.3" r="2.0"/><circle cx="120.9" cy="156.7" r="2.0"/><circle cx="99.6" cy="151.4" r="2.0"/><circle cx="98.9" cy="166.3" r="2.0"/><circle cx="93.4" cy="163.0" r="2.0"/><circle cx="100.0" cy="168.9" r="2.0"/><circle cx="89.4" cy="160.8" r="2.0"/><circle cx="103.7" cy="166.5" r="2.0"/><circle cx="106.5" cy="186.9" r="2.0"/><circle cx="115.9" cy="184.3" r="2.0"/><circle cx="99.7" cy="155.9" r="2.0"/><circle cx="121.9" cy="170.3" r="2.0"/><circle cx="121.6" cy="161.5" r="2.0"/><circle cx="115.5" cy="160.8" r="2.0"/><circle cx="122.6" cy="150.9" r="2.0"/><circle cx="125.3" cy="174.7" r="2.0"/><circle cx="97.3" cy="160.0" r="2.0"/><circle cx="121.7" cy="179.7" r="2.0"/><circle cx="104.6" cy="185.6" r="2.0"/><circle cx="89.6" cy="162.9" r="2.0"/><circle cx="115.7" cy="180.3" r="2.0"/><circle cx="122.7" cy="166.9" r="2.0"/><circle cx="101.1" cy="166.8" r="2.0"/><circle cx="124.3" cy="164.8" r="2.0"/><circle cx="90.7" cy="164.3" r="2.0"/><circle cx="109.1" cy="187.6" r="2.0"/><circle cx="117.4" cy="175.2" r="2.0"/><circle cx="104.2" cy="175.0" r="2.0"/><circle cx="121.7" cy="171.7" r="2.0"/><circle cx="116.4" cy="188.8" r="2.0"/><circle cx="119.2" cy="176.7" r="2.0"/><circle cx="97.8" cy="152.0" r="2.0"/><circle cx="114.2" cy="186.3" r="2.0"/><circle cx="97.7" cy="158.7" r="2.0"/><circle cx="124.1" cy="165.3" r="2.0"/><circle cx="119.0" cy="152.3" r="2.0"/><circle cx="125.9" cy="163.7" r="2.0"/><circle cx="90.9" cy="161.5" r="2.0"/><circle cx="111.7" cy="185.6" r="2.0"/><circle cx="89.5" cy="159.2" r="2.0"/><circle cx="115.5" cy="164.4" r="2.0"/><circle cx="100.6" cy="174.8" r="2.0"/><circle cx="124.4" cy="173.3" r="2.0"/><circle cx="105.2" cy="151.9" r="2.0"/><circle cx="115.5" cy="181.8" r="2.0"/><circle cx="106.7" cy="179.9" r="2.0"/><circle cx="119.4" cy="169.6" r="2.0"/><circle cx="101.1" cy="157.6" r="2.0"/><circle cx="104.1" cy="161.8" r="2.0"/><circle cx="93.8" cy="161.0" r="2.0"/><circle cx="120.1" cy="181.6" r="2.0"/><circle cx="87.1" cy="158.3" r="2.0"/><circle cx="120.1" cy="177.5" r="2.0"/><circle cx="97.2" cy="165.1" r="2.0"/><circle cx="124.2" cy="169.6" r="2.0"/><circle cx="107.8" cy="186.2" r="2.0"/><circle cx="94.5" cy="160.4" r="2.0"/><circle cx="120.6" cy="166.4" r="2.0"/><circle cx="102.9" cy="149.4" r="2.0"/><circle cx="87.5" cy="163.6" r="2.0"/><circle cx="115.2" cy="189.1" r="2.0"/><circle cx="94.3" cy="160.0" r="2.0"/><circle cx="90.3" cy="158.1" r="2.0"/><circle cx="106.8" cy="175.5" r="2.0"/><circle cx="115.8" cy="181.0" r="2.0"/><circle cx="120.2" cy="151.4" r="2.0"/><circle cx="117.6" cy="181.3" r="2.0"/><circle cx="118.6" cy="170.4" r="2.0"/><circle cx="95.4" cy="166.8" r="2.0"/><circle cx="115.7" cy="182.6" r="2.0"/><circle cx="130.0" cy="160.9" r="2.0"/><circle cx="121.9" cy="153.7" r="2.0"/><circle cx="111.8" cy="186.2" r="2.0"/><circle cx="113.7" cy="185.2" r="2.0"/><circle cx="103.8" cy="149.3" r="2.0"/><circle cx="121.2" cy="150.1" r="2.0"/><circle cx="116.5" cy="158.4" r="2.0"/><circle cx="101.6" cy="153.3" r="2.0"/><circle cx="126.4" cy="153.6" r="2.0"/><circle cx="102.4" cy="162.7" r="2.0"/><circle cx="122.1" cy="155.7" r="2.0"/><circle cx="122.4" cy="149.3" r="2.0"/><circle cx="118.6" cy="176.1" r="2.0"/><circle cx="104.4" cy="176.7" r="2.0"/><circle cx="120.6" cy="185.1" r="2.0"/><circle cx="119.8" cy="150.4" r="2.0"/><circle cx="118.0" cy="187.5" r="2.0"/><circle cx="105.5" cy="188.8" r="2.0"/><circle cx="106.1" cy="181.0" r="2.0"/><circle cx="96.6" cy="162.6" r="2.0"/><circle cx="101.4" cy="163.7" r="2.0"/><circle cx="121.6" cy="161.4" r="2.0"/><circle cx="96.5" cy="167.7" r="2.0"/><circle cx="85.0" cy="159.5" r="2.0"/><circle cx="123.7" cy="173.1" r="2.0"/><circle cx="99.7" cy="177.4" r="2.0"/><circle cx="102.4" cy="173.3" r="2.0"/><circle cx="110.9" cy="191.5" r="2.0"/><circle cx="88.5" cy="158.6" r="2.0"/><circle cx="92.8" cy="168.8" r="2.0"/><circle cx="118.3" cy="180.3" r="2.0"/><circle cx="121.3" cy="183.1" r="2.0"/><circle cx="96.4" cy="160.6" r="2.0"/><circle cx="94.5" cy="160.8" r="2.0"/><circle cx="113.6" cy="178.7" r="2.0"/><circle cx="113.9" cy="180.5" r="2.0"/><circle cx="99.2" cy="151.9" r="2.0"/><circle cx="102.1" cy="155.4" r="2.0"/><circle cx="99.2" cy="167.5" r="2.0"/><circle cx="118.5" cy="169.2" r="2.0"/><circle cx="120.4" cy="153.3" r="2.0"/><circle cx="125.6" cy="150.4" r="2.0"/><circle cx="125.4" cy="159.2" r="2.0"/><circle cx="117.5" cy="161.6" r="2.0"/><circle cx="129.2" cy="156.2" r="2.0"/><circle cx="117.0" cy="175.6" r="2.0"/><circle cx="117.1" cy="157.2" r="2.0"/><circle cx="116.6" cy="174.8" r="2.0"/><circle cx="102.2" cy="181.7" r="2.0"/><circle cx="96.6" cy="165.6" r="2.0"/><circle cx="98.3" cy="166.2" r="2.0"/><circle cx="122.2" cy="159.1" r="2.0"/><circle cx="93.7" cy="158.9" r="2.0"/><circle cx="103.2" cy="165.6" r="2.0"/><circle cx="116.1" cy="170.4" r="2.0"/><circle cx="127.5" cy="151.3" r="2.0"/><circle cx="117.2" cy="186.9" r="2.0"/><circle cx="107.0" cy="181.2" r="2.0"/><circle cx="95.5" cy="168.9" r="2.0"/><circle cx="102.1" cy="170.3" r="2.0"/><circle cx="87.6" cy="159.1" r="2.0"/><circle cx="125.4" cy="182.8" r="2.0"/><circle cx="116.3" cy="190.6" r="2.0"/><circle cx="117.6" cy="190.0" r="2.0"/><circle cx="131.2" cy="162.1" r="2.0"/><circle cx="82.0" cy="159.0" r="2.0"/><circle cx="127.1" cy="172.6" r="2.0"/><circle cx="92.1" cy="172.3" r="2.0"/><circle cx="97.9" cy="179.9" r="2.0"/><circle cx="107.0" cy="191.4" r="2.0"/><circle cx="133.1" cy="156.4" r="2.0"/><circle cx="82.1" cy="156.9" r="2.0"/><circle cx="93.4" cy="175.3" r="2.0"/><circle cx="124.9" cy="177.8" r="2.0"/><circle cx="123.8" cy="184.9" r="2.0"/><circle cx="100.9" cy="186.9" r="2.0"/><circle cx="84.5" cy="162.5" r="2.0"/><circle cx="104.3" cy="188.5" r="2.0"/><circle cx="84.0" cy="157.3" r="2.0"/><circle cx="132.5" cy="162.9" r="2.0"/><circle cx="104.1" cy="189.8" r="2.0"/><circle cx="131.9" cy="156.5" r="2.0"/><circle cx="130.4" cy="173.2" r="2.0"/><circle cx="128.8" cy="173.7" r="2.0"/><circle cx="130.7" cy="163.8" r="2.0"/><circle cx="107.4" cy="192.0" r="2.0"/><circle cx="105.6" cy="190.6" r="2.0"/><circle cx="128.7" cy="168.4" r="2.0"/><circle cx="88.0" cy="169.5" r="2.0"/><circle cx="132.0" cy="156.0" r="2.0"/><circle cx="129.8" cy="172.3" r="2.0"/><circle cx="85.2" cy="161.0" r="2.0"/><circle cx="106.3" cy="190.6" r="2.0"/><circle cx="129.3" cy="174.8" r="2.0"/><circle cx="84.1" cy="158.0" r="2.0"/><circle cx="95.0" cy="177.1" r="2.0"/><circle cx="121.9" cy="188.0" r="2.0"/><circle cx="103.8" cy="190.4" r="2.0"/><circle cx="88.7" cy="170.7" r="2.0"/><circle cx="84.1" cy="159.7" r="2.0"/><circle cx="132.7" cy="166.4" r="2.0"/><circle cx="78.6" cy="150.1" r="2.0"/><circle cx="143.8" cy="130.3" r="2.0"/><circle cx="147.4" cy="130.3" r="2.0"/><circle cx="139.9" cy="134.3" r="2.0"/><circle cx="131.3" cy="155.3" r="2.0"/><circle cx="140.6" cy="171.2" r="2.0"/><circle cx="130.7" cy="171.2" r="2.0"/><circle cx="129.0" cy="177.0" r="2.0"/><circle cx="127.4" cy="180.3" r="2.0"/><circle cx="88.4" cy="178.8" r="2.0"/><circle cx="98.8" cy="189.5" r="2.0"/></g>
<g fill="#000000" stroke="#000000" fill-opacity="0.36" stroke-opacity="0.45" stroke-width="1"><circle cx="96.2" cy="147.5" r="2.0"/><circle cx="103.2" cy="159.5" r="2.0"/><circle cx="102.6" cy="154.8" r="2.0"/><circle cx="104.6" cy="142.1" r="2.0"/><circle cx="97.9" cy="154.9" r="2.0"/><circle cx="100.6" cy="162.4" r="2.0"/><circle cx="104.2" cy="164.3" r="2.0"/><circle cx="103.1" cy="162.3" r="2.0"/><circle cx="101.9" cy="152.2" r="2.0"/><circle cx="98.5" cy="142.4" r="2.0"/><circle cx="104.0" cy="150.7" r="2.0"/><circle cx="103.2" cy="157.5" r="2.0"/><circle cx="98.2" cy="153.9" r="2.0"/><circle cx="103.6" cy="159.3" r="2.0"/><circle cx="103.1" cy="155.5" r="2.0"/><circle cx="98.5" cy="140.1" r="2.0"/><circle cx="104.3" cy="158.9" r="2.0"/><circle cx="100.1" cy="164.2" r="2.0"/><circle cx="102.2" cy="164.3" r="2.0"/><circle cx="102.9" cy="157.3" r="2.0"/><circle cx="100.8" cy="145.7" r="2.0"/><circle cx="98.2" cy="147.1" r="2.0"/><circle cx="99.5" cy="147.5" r="2.0"/><circle cx="102.0" cy="163.7" r="2.0"/><circle cx="100.5" cy="152.4" r="2.0"/><circle cx="99.3" cy="148.1" r="2.0"/><circle cx="102.5" cy="135.0" r="2.0"/><circle cx="101.1" cy="164.3" r="2.0"/><circle cx="101.5" cy="158.3" r="2.0"/><circle cx="99.3" cy="154.2" r="2.0"/><circle cx="101.9" cy="156.4" r="2.0"/><circle cx="104.2" cy="158.3" r="2.0"/><circle cx="104.5" cy="143.8" r="2.0"/><circle cx="96.5" cy="153.1" r="2.0"/><circle cx="100.6" cy="160.8" r="2.0"/><circle cx="100.6" cy="151.1" r="2.0"/><circle cx="104.6" cy="157.0" r="2.0"/><circle cx="103.1" cy="156.1" r="2.0"/><circle cx="101.6" cy="142.7" r="2.0"/><circle cx="102.4" cy="164.6" r="2.0"/><circle cx="101.5" cy="150.7" r="2.0"/><circle cx="100.3" cy="144.4" r="2.0"/><circle cx="102.3" cy="142.5" r="2.0"/><circle cx="103.6" cy="153.8" r="2.0"/><circle cx="101.5" cy="159.0" r="2.0"/><circle cx="101.9" cy="157.1" r="2.0"/><circle cx="100.4" cy="140.3" r="2.0"/><circle cx="102.3" cy="151.9" r="2.0"/><circle cx="104.0" cy="156.0" r="2.0"/><circle cx="104.1" cy="146.4" r="2.0"/><circle cx="101.6" cy="159.2" r="2.0"/><circle cx="99.8" cy="159.4" r="2.0"/><circle cx="101.5" cy="140.4" r="2.0"/><circle cx="104.0" cy="159.4" r="2.0"/><circle cx="101.6" cy="137.4" r="2.0"/><circle cx="102.9" cy="152.0" r="2.0"/><circle cx="102.6" cy="152.6" r="2.0"/><circle cx="104.6" cy="137.8" r="2.0"/><circle cx="101.3" cy="147.6" r="2.0"/><circle cx="104.6" cy="151.0" r="2.0"/><circle cx="103.7" cy="157.0" r="2.0"/><circle cx="102.6" cy="154.3" r="2.0"/><circle cx="99.0" cy="162.5" r="2.0"/><circle cx="104.6" cy="155.0" r="2.0"/><circle cx="102.2" cy="141.5" r="2.0"/><circle cx="102.4" cy="160.1" r="2.0"/><circle cx="93.7" cy="159.1" r="2.0"/><circle cx="101.9" cy="144.1" r="2.0"/><circle cx="98.2" cy="136.2" r="2.0"/><circle cx="98.7" cy="150.4" r="2.0"/><circle cx="96.3" cy="161.7" r="2.0"/><circle cx="104.1" cy="148.8" r="2.0"/><circle cx="102.7" cy="150.2" r="2.0"/><circle cx="100.1" cy="150.7" r="2.0"/><circle cx="99.4" cy="150.9" r="2.0"/><circle cx="103.5" cy="158.5" r="2.0"/><circle cx="103.7" cy="146.5" r="2.0"/><circle cx="104.7" cy="149.5" r="2.0"/><circle cx="98.1" cy="149.3" r="2.0"/><circle cx="104.2" cy="156.6" r="2.0"/><circle cx="100.5" cy="148.4" r="2.0"/><circle cx="99.1" cy="163.3" r="2.0"/><circle cx="102.3" cy="154.2" r="2.0"/><circle cx="101.8" cy="162.7" r="2.0"/><circle cx="104.3" cy="153.7" r="2.0"/><circle cx="103.2" cy="157.8" r="2.0"/><circle cx="103.0" cy="158.4" r="2.0"/><circle cx="104.1" cy="146.7" r="2.0"/><circle cx="101.3" cy="137.4" r="2.0"/><circle cx="103.6" cy="158.3" r="2.0"/><circle cx="103.4" cy="151.0" r="2.0"/><circle cx="102.4" cy="139.9" r="2.0"/><circle cx="103.6" cy="147.7" r="2.0"/><circle cx="102.8" cy="142.0" r="2.0"/><circle cx="102.2" cy="164.6" r="2.0"/><circle cx="102.5" cy="157.5" r="2.0"/><circle cx="100.6" cy="162.1" r="2.0"/><circle cx="101.9" cy="164.1" r="2.0"/><circle cx="103.6" cy="153.2" r="2.0"/><circle cx="99.9" cy="156.7" r="2.0"/><circle cx="102.8" cy="157.3" r="2.0"/><circle cx="102.7" cy="164.2" r="2.0"/><circle cx="103.0" cy="137.8" r="2.0"/><circle cx="101.9" cy="142.4" r="2.0"/><circle cx="102.3" cy="149.0" r="2.0"/><circle cx="104.6" cy="161.0" r="2.0"/><circle cx="101.3" cy="144.5" r="2.0"/><circle cx="98.2" cy="145.1" r="2.0"/><circle cx="101.0" cy="160.0" r="2.0"/><circle cx="100.3" cy="134.8" r="2.0"/><circle cx="95.9" cy="153.3" r="2.0"/><circle cx="98.2" cy="144.6" r="2.0"/><circle cx="103.3" cy="160.8" r="2.0"/><circle cx="101.6" cy="145.8" r="2.0"/><circle cx="102.2" cy="146.1" r="2.0"/><circle cx="101.3" cy="162.7" r="2.0"/><circle cx="98.6" cy="147.2" r="2.0"/><circle cx="97.7" cy="157.9" r="2.0"/><circle cx="97.7" cy="142.1" r="2.0"/><circle cx="100.9" cy="165.2" r="2.0"/><circle cx="104.5" cy="157.1" r="2.0"/><circle cx="96.6" cy="142.3" r="2.0"/><circle cx="98.5" cy="154.8" r="2.0"/><circle cx="98.9" cy="144.9" r="2.0"/><circle cx="99.9" cy="159.9" r="2.0"/><circle cx="97.6" cy="160.8" r="2.0"/><circle cx="98.0" cy="161.7" r="2.0"/><circle cx="96.7" cy="157.6" r="2.0"/><circle cx="104.0" cy="155.5" r="2.0"/><circle cx="103.6" cy="161.5" r="2.0"/><circle cx="100.9" cy="151.5" r="2.0"/><circle cx="103.7" cy="158.8" r="2.0"/><circle cx="102.7" cy="158.7" r="2.0"/><circle cx="102.5" cy="145.1" r="2.0"/><circle cx="101.6" cy="142.2" r="2.0"/><circle cx="102.4" cy="135.3" r="2.0"/><circle cx="103.2" cy="136.6" r="2.0"/><circle cx="100.0" cy="147.0" r="2.0"/><circle cx="101.1" cy="159.4" r="2.0"/><circle cx="103.7" cy="154.1" r="2.0"/><circle cx="95.3" cy="162.2" r="2.0"/><circle cx="103.0" cy="157.2" r="2.0"/><circle cx="100.7" cy="144.2" r="2.0"/><circle cx="100.6" cy="137.8" r="2.0"/><circle cx="99.7" cy="160.2" r="2.0"/><circle cx="104.2" cy="147.4" r="2.0"/><circle cx="103.2" cy="161.8" r="2.0"/><circle cx="102.2" cy="145.7" r="2.0"/><circle cx="98.1" cy="145.8" r="2.0"/><circle cx="103.0" cy="138.4" r="2.0"/><circle cx="98.3" cy="135.6" r="2.0"/><circle cx="101.9" cy="147.8" r="2.0"/><circle cx="103.8" cy="159.9" r="2.0"/><circle cx="100.7" cy="141.4" r="2.0"/><circle cx="103.0" cy="159.4" r="2.0"/><circle cx="99.6" cy="147.9" r="2.0"/><circle cx="100.0" cy="163.3" r="2.0"/><circle cx="104.5" cy="144.7" r="2.0"/><circle cx="101.9" cy="151.5" r="2.0"/><circle cx="103.6" cy="150.0" r="2.0"/><circle cx="102.6" cy="164.2" r="2.0"/><circle cx="101.8" cy="140.2" r="2.0"/><circle cx="104.3" cy="151.6" r="2.0"/><circle cx="95.8" cy="145.7" r="2.0"/><circle cx="104.5" cy="163.1" r="2.0"/><circle cx="92.0" cy="160.4" r="2.0"/><circle cx="96.0" cy="161.3" r="2.0"/><circle cx="92.1" cy="160.9" r="2.0"/><circle cx="92.6" cy="148.3" r="2.0"/><circle cx="93.3" cy="158.9" r="2.0"/><circle cx="91.2" cy="155.6" r="2.0"/><circle cx="89.6" cy="150.4" r="2.0"/><circle cx="91.2" cy="154.2" r="2.0"/><circle cx="91.7" cy="147.5" r="2.0"/><circle cx="87.1" cy="151.4" r="2.0"/><circle cx="94.2" cy="158.0" r="2.0"/><circle cx="89.4" cy="150.1" r="2.0"/><circle cx="92.2" cy="148.8" r="2.0"/><circle cx="93.0" cy="160.5" r="2.0"/><circle cx="89.0" cy="155.4" r="2.0"/><circle cx="94.2" cy="158.0" r="2.0"/><circle cx="94.1" cy="157.4" r="2.0"/><circle cx="89.7" cy="159.4" r="2.0"/><circle cx="96.3" cy="146.8" r="2.0"/><circle cx="96.4" cy="153.1" r="2.0"/><circle cx="73.4" cy="153.8" r="2.0"/><circle cx="73.9" cy="157.0" r="2.0"/><circle cx="78.6" cy="157.0" r="2.0"/><circle cx="80.7" cy="154.8" r="2.0"/><circle cx="82.8" cy="152.7" r="2.0"/><circle cx="86.0" cy="152.2" r="2.0"/><circle cx="87.6" cy="149.1" r="2.0"/><circle cx="89.7" cy="150.6" r="2.0"/><circle cx="90.2" cy="147.5" r="2.0"/><circle cx="91.8" cy="143.8" r="2.0"/><circle cx="91.8" cy="141.7" r="2.0"/><circle cx="91.3" cy="154.8" r="2.0"/><circle cx="88.6" cy="155.9" r="2.0"/><circle cx="90.7" cy="162.2" r="2.0"/><circle cx="93.9" cy="158.5" r="2.0"/><circle cx="94.9" cy="152.7" r="2.0"/><circle cx="94.4" cy="148.5" r="2.0"/><circle cx="94.4" cy="145.4" r="2.0"/><circle cx="76.5" cy="155.5" r="2.0"/><circle cx="84.5" cy="153.5" r="2.0"/><circle cx="92.8" cy="151.5" r="2.0"/><circle cx="96.6" cy="156.0" r="2.0"/><circle cx="96.8" cy="161.0" r="2.0"/><circle cx="96.5" cy="147.0" r="2.0"/><circle cx="97.0" cy="137.5" r="2.0"/><circle cx="96.0" cy="134.0" r="2.0"/><circle cx="98.6" cy="131.8" r="2.0"/><circle cx="95.5" cy="131.9" r="2.0"/><circle cx="92.5" cy="132.2" r="2.0"/><circle cx="116.9" cy="157.7" r="2.0"/><circle cx="117.3" cy="150.8" r="2.0"/><circle cx="115.7" cy="137.6" r="2.0"/><circle cx="118.7" cy="142.1" r="2.0"/><circle cx="117.6" cy="144.2" r="2.0"/><circle cx="118.4" cy="129.6" r="2.0"/><circle cx="116.7" cy="155.0" r="2.0"/><circle cx="117.1" cy="160.0" r="2.0"/><circle cx="119.5" cy="148.7" r="2.0"/><circle cx="117.8" cy="138.8" r="2.0"/><circle cx="120.4" cy="130.0" r="2.0"/><circle cx="118.6" cy="162.6" r="2.0"/><circle cx="121.4" cy="147.0" r="2.0"/><circle cx="116.2" cy="155.5" r="2.0"/><circle cx="116.2" cy="161.0" r="2.0"/><circle cx="116.6" cy="149.0" r="2.0"/><circle cx="119.0" cy="152.3" r="2.0"/><circle cx="117.2" cy="164.0" r="2.0"/><circle cx="117.1" cy="139.7" r="2.0"/><circle cx="118.5" cy="123.2" r="2.0"/><circle cx="119.1" cy="123.2" r="2.0"/><circle cx="117.7" cy="140.8" r="2.0"/><circle cx="116.9" cy="164.6" r="2.0"/><circle cx="116.4" cy="162.3" r="2.0"/><circle cx="119.1" cy="166.1" r="2.0"/><circle cx="115.9" cy="136.8" r="2.0"/><circle cx="119.7" cy="129.9" r="2.0"/><circle cx="116.0" cy="163.5" r="2.0"/><circle cx="121.5" cy="129.5" r="2.0"/><circle cx="125.5" cy="139.1" r="2.0"/><circle cx="119.3" cy="158.2" r="2.0"/><circle cx="117.2" cy="140.5" r="2.0"/><circle cx="118.9" cy="133.8" r="2.0"/><circle cx="118.5" cy="126.8" r="2.0"/><circle cx="116.1" cy="154.3" r="2.0"/><circle cx="116.2" cy="137.9" r="2.0"/><circle cx="117.2" cy="165.2" r="2.0"/><circle cx="118.5" cy="127.3" r="2.0"/><circle cx="122.2" cy="143.2" r="2.0"/><circle cx="117.2" cy="130.0" r="2.0"/><circle cx="117.4" cy="164.2" r="2.0"/><circle cx="118.1" cy="138.8" r="2.0"/><circle cx="123.1" cy="133.6" r="2.0"/><circle cx="119.6" cy="166.2" r="2.0"/><circle cx="118.9" cy="148.6" r="2.0"/><circle cx="120.7" cy="127.4" r="2.0"/><circle cx="118.2" cy="134.6" r="2.0"/><circle cx="123.0" cy="127.8" r="2.0"/><circle cx="117.7" cy="164.5" r="2.0"/><circle cx="115.7" cy="138.6" r="2.0"/><circle cx="117.5" cy="148.6" r="2.0"/><circle cx="117.0" cy="152.1" r="2.0"/><circle cx="115.7" cy="145.3" r="2.0"/><circle cx="116.6" cy="162.6" r="2.0"/><circle cx="116.4" cy="152.9" r="2.0"/><circle cx="117.5" cy="140.4" r="2.0"/><circle cx="116.6" cy="166.1" r="2.0"/><circle cx="119.9" cy="148.1" r="2.0"/><circle cx="118.5" cy="125.0" r="2.0"/><circle cx="118.3" cy="148.4" r="2.0"/><circle cx="119.4" cy="139.0" r="2.0"/><circle cx="115.8" cy="135.0" r="2.0"/><circle cx="118.5" cy="127.0" r="2.0"/><circle cx="116.5" cy="139.6" r="2.0"/><circle cx="115.6" cy="138.4" r="2.0"/><circle cx="118.5" cy="133.8" r="2.0"/><circle cx="118.7" cy="153.8" r="2.0"/><circle cx="118.1" cy="133.2" r="2.0"/><circle cx="118.0" cy="150.6" r="2.0"/><circle cx="116.1" cy="152.2" r="2.0"/><circle cx="117.4" cy="157.6" r="2.0"/><circle cx="117.8" cy="154.0" r="2.0"/><circle cx="116.3" cy="136.7" r="2.0"/><circle cx="117.2" cy="135.2" r="2.0"/><circle cx="117.9" cy="139.2" r="2.0"/><circle cx="118.5" cy="123.9" r="2.0"/><circle cx="117.2" cy="131.7" r="2.0"/><circle cx="120.5" cy="128.0" r="2.0"/><circle cx="115.8" cy="133.5" r="2.0"/><circle cx="116.0" cy="157.6" r="2.0"/><circle cx="120.8" cy="143.8" r="2.0"/><circle cx="118.3" cy="156.8" r="2.0"/><circle cx="116.9" cy="134.3" r="2.0"/><circle cx="118.4" cy="142.2" r="2.0"/><circle cx="117.1" cy="139.2" r="2.0"/><circle cx="116.1" cy="137.3" r="2.0"/><circle cx="116.6" cy="133.1" r="2.0"/><circle cx="119.0" cy="142.9" r="2.0"/><circle cx="116.6" cy="164.8" r="2.0"/><circle cx="117.5" cy="149.8" r="2.0"/><circle cx="116.5" cy="142.2" r="2.0"/><circle cx="117.7" cy="147.7" r="2.0"/><circle cx="117.2" cy="165.2" r="2.0"/><circle cx="115.9" cy="163.6" r="2.0"/><circle cx="120.9" cy="123.7" r="2.0"/><circle cx="120.6" cy="135.1" r="2.0"/><circle cx="119.5" cy="127.0" r="2.0"/><circle cx="118.8" cy="131.6" r="2.0"/><circle cx="116.7" cy="135.2" r="2.0"/><circle cx="118.5" cy="124.2" r="2.0"/><circle cx="117.3" cy="138.1" r="2.0"/><circle cx="115.8" cy="131.6" r="2.0"/><circle cx="117.6" cy="138.4" r="2.0"/><circle cx="118.8" cy="123.1" r="2.0"/><circle cx="119.5" cy="134.0" r="2.0"/><circle cx="118.2" cy="152.5" r="2.0"/><circle cx="117.5" cy="142.0" r="2.0"/><circle cx="122.5" cy="144.9" r="2.0"/><circle cx="117.2" cy="147.0" r="2.0"/><circle cx="118.5" cy="127.4" r="2.0"/><circle cx="115.9" cy="139.2" r="2.0"/><circle cx="121.5" cy="124.6" r="2.0"/><circle cx="118.8" cy="126.2" r="2.0"/><circle cx="115.8" cy="142.0" r="2.0"/><circle cx="116.4" cy="154.0" r="2.0"/><circle cx="118.1" cy="146.7" r="2.0"/><circle cx="122.0" cy="128.0" r="2.0"/><circle cx="118.5" cy="124.1" r="2.0"/><circle cx="126.6" cy="100.0" r="2.0"/><circle cx="124.9" cy="125.5" r="2.0"/><circle cx="129.9" cy="90.5" r="2.0"/><circle cx="126.6" cy="93.5" r="2.0"/><circle cx="127.3" cy="91.2" r="2.0"/><circle cx="120.8" cy="126.0" r="2.0"/><circle cx="132.9" cy="98.7" r="2.0"/><circle cx="130.0" cy="96.9" r="2.0"/><circle cx="129.7" cy="110.0" r="2.0"/><circle cx="128.8" cy="114.5" r="2.0"/><circle cx="126.1" cy="101.4" r="2.0"/><circle cx="77.4" cy="71.6" r="2.0"/><circle cx="70.3" cy="93.5" r="2.0"/><circle cx="91.4" cy="88.6" r="2.0"/><circle cx="91.4" cy="97.1" r="2.0"/><circle cx="68.7" cy="120.3" r="2.0"/><circle cx="62.4" cy="126.2" r="2.0"/><circle cx="92.0" cy="119.3" r="2.0"/><circle cx="85.9" cy="127.2" r="2.0"/><circle cx="97.3" cy="126.8" r="2.0"/><circle cx="100.9" cy="127.2" r="2.0"/><circle cx="73.6" cy="139.5" r="2.0"/><circle cx="86.8" cy="139.1" r="2.0"/><circle cx="54.9" cy="144.6" r="2.0"/><circle cx="88.8" cy="132.6" r="2.0"/><circle cx="91.4" cy="132.8" r="2.0"/><circle cx="94.1" cy="132.8" r="2.0"/><circle cx="96.7" cy="132.8" r="2.0"/><circle cx="98.7" cy="132.8" r="2.0"/><circle cx="100.7" cy="135.3" r="2.0"/><circle cx="91.4" cy="143.4" r="2.0"/><circle cx="146.0" cy="52.9" r="2.0"/><circle cx="165.5" cy="53.8" r="2.0"/><circle cx="153.7" cy="65.0" r="2.0"/><circle cx="139.8" cy="70.6" r="2.0"/><circle cx="132.4" cy="82.4" r="2.0"/><circle cx="143.6" cy="80.9" r="2.0"/><circle cx="139.9" cy="84.4" r="2.0"/><circle cx="153.9" cy="83.7" r="2.0"/><circle cx="164.0" cy="91.3" r="2.0"/><circle cx="134.9" cy="91.3" r="2.0"/><circle cx="130.0" cy="88.8" r="2.0"/><circle cx="132.0" cy="90.8" r="2.0"/><circle cx="137.9" cy="93.8" r="2.0"/><circle cx="172.9" cy="88.7" r="2.0"/><circle cx="153.7" cy="112.6" r="2.0"/><circle cx="188.9" cy="109.6" r="2.0"/><circle cx="137.9" cy="111.6" r="2.0"/><circle cx="136.3" cy="117.9" r="2.0"/><circle cx="129.7" cy="90.6" r="2.0"/><circle cx="123.5" cy="99.6" r="2.0"/><circle cx="126.4" cy="108.8" r="2.0"/><circle cx="126.4" cy="122.2" r="2.0"/><circle cx="117.2" cy="126.8" r="2.0"/><circle cx="134.6" cy="135.3" r="2.0"/><circle cx="136.6" cy="153.3" r="2.0"/><circle cx="132.6" cy="150.7" r="2.0"/><circle cx="127.4" cy="156.3" r="2.0"/><circle cx="124.5" cy="161.8" r="2.0"/><circle cx="135.9" cy="125.0" r="2.0"/><circle cx="123.8" cy="114.2" r="2.0"/><circle cx="117.9" cy="123.6" r="2.0"/></g>
<g fill="#006400" stroke="#006400" fill-opacity="0.48" stroke-opacity="0.5" stroke-width="1"><circle cx="116.8" cy="133.8" r="2.0"/><circle cx="116.6" cy="165.2" r="2.0"/></g>
<g fill="#ee82ee" stroke="#ee82ee" fill-opacity="0.55" stroke-opacity="0.45" stroke-width="1"><circle cx="121.2" cy="125.5" r="2.0"/></g>
<g fill="#006400" stroke="#006400" fill-opacity="0.48" stroke-opacity="0.5" stroke-width="1"><circle cx="96.2" cy="152.1" r="2.0"/><circle cx="171.7" cy="61.7" r="2.0"/></g>
<g fill="#ee82ee" stroke="#ee82ee" fill-opacity="0.55" stroke-opacity="0.45" stroke-width="1"><circle cx="120.0" cy="128.0" r="2.0"/></g>
<g fill="#006400" stroke="#006400" fill-opacity="0.48" stroke-opacity="0.5" stroke-width="1"><circle cx="120.7" cy="156.6" r="2.0"/><circle cx="121.7" cy="126.6" r="2.0"/><circle cx="117.4" cy="141.5" r="2.0"/></g>
<g fill="#ee82ee" stroke="#ee82ee" fill-opacity="0.55" stroke-opacity="0.45" stroke-width="1"><circle cx="120.6" cy="148.0" r="2.0"/></g>
<g fill="#006400" stroke="#006400" fill-opacity="0.48" stroke-opacity="0.5" stroke-width="1"><circle cx="119.8" cy="150.2" r="2.0"/></g>
<g fill="#ee82ee" stroke="#ee82ee" fill-opacity="0.55" stroke-opacity="0.45" stroke-width="1"><circle cx="118.0" cy="154.8" r="2.0"/><circle cx="116.2" cy="164.8" r="2.0"/></g>
<g fill="#006400" stroke="#006400" fill-opacity="0.48" stroke-opacity="0.5" stroke-width="1"><circle cx="120.5" cy="126.9" r="2.0"/><circle cx="147.4" cy="113.6" r="2.0"/><circle cx="118.7" cy="124.0" r="2.0"/></g>
<g fill="#ee82ee" stroke="#ee82ee" fill-opacity="0.55" stroke-opacity="0.45" stroke-width="1"><circle cx="151.0" cy="61.7" r="2.0"/></g>
<g fill="#006400" stroke="#006400" fill-opacity="0.48" stroke-opacity="0.5" stroke-width="1"><circle cx="116.4" cy="134.9" r="2.0"/><circle cx="132.4" cy="103.2" r="2.0"/></g>
<g fill="#ee82ee" stroke="#ee82ee" fill-opacity="0.55" stroke-opacity="0.45" stroke-width="1"><circle cx="128.0" cy="146.1" r="2.0"/></g>
<g fill="#006400" stroke="#006400" fill-opacity="0.48" stroke-opacity="0.5" stroke-width="1"><circle cx="121.0" cy="158.2" r="2.0"/><circle cx="120.2" cy="132.7" r="2.0"/><circle cx="119.7" cy="154.9" r="2.0"/></g>
<g fill="#ee82ee" stroke="#ee82ee" fill-opacity="0.55" stroke-opacity="0.45" stroke-width="1"><circle cx="133.0" cy="89.3" r="2.0"/></g>
<g fill="#006400" stroke="#006400" fill-opacity="0.48" stroke-opacity="0.5" stroke-width="1"><circle cx="138.9" cy="121.8" r="2.0"/><circle cx="119.8" cy="144.0" r="2.0"/><circle cx="118.0" cy="132.7" r="2.0"/><circle cx="115.6" cy="143.6" r="2.0"/><circle cx="120.0" cy="128.4" r="2.0"/><circle cx="116.0" cy="160.9" r="2.0"/><circle cx="121.7" cy="140.1" r="2.0"/><circle cx="124.7" cy="127.6" r="2.0"/></g>
<g fill="#ee82ee" stroke="#ee82ee" fill-opacity="0.55" stroke-opacity="0.45" stroke-width="1"><circle cx="119.7" cy="139.7" r="2.0"/></g>
<g fill="#006400" stroke="#006400" fill-opacity="0.48" stroke-opacity="0.5" stroke-width="1"><circle cx="125.2" cy="118.5" r="2.0"/><circle cx="121.7" cy="110.4" r="2.0"/><circle cx="128.9" cy="115.5" r="2.0"/><circle cx="119.2" cy="128.3" r="2.0"/><circle cx="122.6" cy="136.5" r="2.0"/><circle cx="124.4" cy="118.2" r="2.0"/><circle cx="131.1" cy="105.8" r="2.0"/><circle cx="121.2" cy="115.6" r="2.0"/></g>
<g fill="#ee82ee" stroke="#ee82ee" fill-opacity="0.55" stroke-opacity="0.45" stroke-width="1"><circle cx="147.1" cy="68.5" r="2.0"/></g>
<g fill="#006400" stroke="#006400" fill-opacity="0.48" stroke-opacity="0.5" stroke-width="1"><circle cx="118.5" cy="161.8" r="2.0"/><circle cx="118.5" cy="125.0" r="2.0"/></g>
<g fill="#ee82ee" stroke="#ee82ee" fill-opacity="0.55" stroke-opacity="0.45" stroke-width="1"><circle cx="124.9" cy="103.0" r="2.0"/><circle cx="147.3" cy="84.7" r="2.0"/></g>
<g fill="#006400" stroke="#006400" fill-opacity="0.48" stroke-opacity="0.5" stroke-width="1"><circle cx="129.9" cy="111.3" r="2.0"/><circle cx="116.0" cy="137.6" r="2.0"/></g>
<g fill="#ee82ee" stroke="#ee82ee" fill-opacity="0.55" stroke-opacity="0.45" stroke-width="1"><circle cx="117.9" cy="136.7" r="2.0"/><circle cx="177.6" cy="93.6" r="2.0"/><circle cx="120.8" cy="159.9" r="2.0"/><circle cx="117.7" cy="131.5" r="2.0"/></g>
<g fill="#006400" stroke="#006400" fill-opacity="0.48" stroke-opacity="0.5" stroke-width="1"><circle cx="120.2" cy="155.4" r="2.0"/><circle cx="117.9" cy="116.3" r="2.0"/></g>
<g fill="#ee82ee" stroke="#ee82ee" fill-opacity="0.55" stroke-opacity="0.45" stroke-width="1"><circle cx="116.7" cy="139.4" r="2.0"/></g>
<g fill="#006400" stroke="#006400" fill-opacity="0.48" stroke-opacity="0.5" stroke-width="1"><circle cx="129.0" cy="81.4" r="2.0"/><circle cx="136.3" cy="148.4" r="2.0"/><circle cx="117.2" cy="163.5" r="2.0"/><circle cx="115.9" cy="163.6" r="2.0"/><circle cx="115.9" cy="139.9" r="2.0"/><circle cx="120.3" cy="128.7" r="2.0"/></g>
<g fill="#ee82ee" stroke="#ee82ee" fill-opacity="0.55" stroke-opacity="0.45" stroke-width="1"><circle cx="160.2" cy="58.0" r="2.0"/><circle cx="129.1" cy="112.3" r="2.0"/></g>
<g fill="#006400" stroke="#006400" fill-opacity="0.48" stroke-opacity="0.5" stroke-width="1"><circle cx="116.0" cy="134.7" r="2.0"/><circle cx="116.6" cy="146.1" r="2.0"/></g>
<g fill="#ee82ee" stroke="#ee82ee" fill-opacity="0.55" stroke-opacity="0.45" stroke-width="1"><circle cx="117.5" cy="130.9" r="2.0"/></g>
<g fill="#006400" stroke="#006400" fill-opacity="0.48" stroke-opacity="0.5" stroke-width="1"><circle cx="118.3" cy="165.1" r="2.0"/><circle cx="118.1" cy="163.0" r="2.0"/></g>
<g fill="#ee82ee" stroke="#ee82ee" fill-opacity="0.55" stroke-opacity="0.45" stroke-width="1"><circle cx="124.9" cy="121.5" r="2.0"/><circle cx="117.3" cy="141.0" r="2.0"/><circle cx="121.6" cy="142.7" r="2.0"/><circle cx="125.1" cy="118.3" r="2.0"/></g>
<g fill="#006400" stroke="#006400" fill-opacity="0.48" stroke-opacity="0.5" stroke-width="1"><circle cx="121.6" cy="137.6" r="2.0"/><circle cx="121.2" cy="163.0" r="2.0"/><circle cx="130.0" cy="88.8" r="2.0"/><circle cx="132.2" cy="56.4" r="2.0"/></g>
<g fill="#ee82ee" stroke="#ee82ee" fill-opacity="0.55" stroke-opacity="0.45" stroke-width="1"><circle cx="144.4" cy="67.6" r="2.0"/></g>
<g fill="#006400" stroke="#006400" fill-opacity="0.48" stroke-opacity="0.5" stroke-width="1"><circle cx="118.9" cy="148.0" r="2.0"/><circle cx="118.6" cy="126.7" r="2.0"/><circle cx="120.5" cy="148.9" r="2.0"/><circle cx="117.4" cy="149.9" r="2.0"/><circle cx="115.9" cy="135.6" r="2.0"/><circle cx="121.3" cy="141.7" r="2.0"/><circle cx="125.5" cy="138.6" r="2.0"/></g>
<g fill="#ee82ee" stroke="#ee82ee" fill-opacity="0.55" stroke-opacity="0.45" stroke-width="1"><circle cx="126.1" cy="103.8" r="2.0"/></g>
<g fill="#006400" stroke="#006400" fill-opacity="0.48" stroke-opacity="0.5" stroke-width="1"><circle cx="184.5" cy="139.7" r="2.0"/><circle cx="95.4" cy="137.9" r="2.0"/><circle cx="116.1" cy="157.0" r="2.0"/><circle cx="129.5" cy="94.8" r="2.0"/></g>
<g fill="#ee82ee" stroke="#ee82ee" fill-opacity="0.55" stroke-opacity="0.45" stroke-width="1"><circle cx="157.6" cy="81.4" r="2.0"/></g>
<g fill="#006400" stroke="#006400" fill-opacity="0.48" stroke-opacity="0.5" stroke-width="1"><circle cx="116.3" cy="132.7" r="2.0"/><circle cx="121.2" cy="108.4" r="2.0"/><circle cx="117.5" cy="157.2" r="2.0"/><circle cx="117.7" cy="153.2" r="2.0"/></g>
<g fill="#ee82ee" stroke="#ee82ee" fill-opacity="0.55" stroke-opacity="0.45" stroke-width="1"><circle cx="101.1" cy="139.7" r="2.0"/></g>
<g fill="#006400" stroke="#006400" fill-opacity="0.48" stroke-opacity="0.5" stroke-width="1"><circle cx="126.2" cy="95.5" r="2.0"/><circle cx="119.3" cy="156.8" r="2.0"/><circle cx="146.2" cy="107.6" r="2.0"/></g>
<g fill="#ee82ee" stroke="#ee82ee" fill-opacity="0.55" stroke-opacity="0.45" stroke-width="1"><circle cx="158.3" cy="60.1" r="2.0"/><circle cx="116.2" cy="139.8" r="2.0"/><circle cx="136.9" cy="80.0" r="2.0"/></g>
<g fill="#006400" stroke="#006400" fill-opacity="0.48" stroke-opacity="0.5" stroke-width="1"><circle cx="120.5" cy="121.6" r="2.0"/></g>
<g fill="#ee82ee" stroke="#ee82ee" fill-opacity="0.55" stroke-opacity="0.45" stroke-width="1"><circle cx="122.1" cy="138.4" r="2.0"/></g>
<g fill="#006400" stroke="#006400" fill-opacity="0.48" stroke-opacity="0.5" stroke-width="1"><circle cx="119.4" cy="141.4" r="2.0"/><circle cx="120.4" cy="165.6" r="2.0"/><circle cx="120.4" cy="134.8" r="2.0"/></g>
<g fill="#ee82ee" stroke="#ee82ee" fill-opacity="0.55" stroke-opacity="0.45" stroke-width="1"><circle cx="119.7" cy="138.7" r="2.0"/><circle cx="137.7" cy="96.0" r="2.0"/><circle cx="199.9" cy="82.3" r="2.0"/></g>
<g fill="#006400" stroke="#006400" fill-opacity="0.48" stroke-opacity="0.5" stroke-width="1"><circle cx="123.8" cy="142.1" r="2.0"/><circle cx="117.9" cy="135.0" r="2.0"/><circle cx="119.2" cy="127.1" r="2.0"/></g>
<g fill="#ee82ee" stroke="#ee82ee" fill-opacity="0.55" stroke-opacity="0.45" stroke-width="1"><circle cx="118.9" cy="127.3" r="2.0"/></g>
<g fill="#006400" stroke="#006400" fill-opacity="0.48" stroke-opacity="0.5" stroke-width="1"><circle cx="119.2" cy="162.6" r="2.0"/><circle cx="122.3" cy="113.7" r="2.0"/><circle cx="132.6" cy="131.6" r="2.0"/><circle cx="125.6" cy="121.6" r="2.0"/><circle cx="128.3" cy="95.8" r="2.0"/></g>
<g fill="#ee82ee" stroke="#ee82ee" fill-opacity="0.55" stroke-opacity="0.45" stroke-width="1"><circle cx="117.1" cy="131.1" r="2.0"/></g>
<g fill="#006400" stroke="#006400" fill-opacity="0.48" stroke-opacity="0.5" stroke-width="1"><circle cx="119.0" cy="137.7" r="2.0"/><circle cx="127.8" cy="97.5" r="2.0"/></g>
<g fill="#ee82ee" stroke="#ee82ee" fill-opacity="0.55" stroke-opacity="0.45" stroke-width="1"><circle cx="140.9" cy="114.5" r="2.0"/></g>
<g fill="#006400" stroke="#006400" fill-opacity="0.48" stroke-opacity="0.5" stroke-width="1"><circle cx="115.9" cy="145.2" r="2.0"/><circle cx="125.8" cy="138.5" r="2.0"/><circle cx="123.8" cy="97.2" r="2.0"/><circle cx="115.9" cy="147.0" r="2.0"/><circle cx="119.2" cy="166.1" r="2.0"/><circle cx="117.9" cy="151.0" r="2.0"/><circle cx="138.9" cy="138.8" r="2.0"/></g>
<g fill="#ee82ee" stroke="#ee82ee" fill-opacity="0.55" stroke-opacity="0.45" stroke-width="1"><circle cx="140.3" cy="98.2" r="2.0"/></g>
<g fill="#006400" stroke="#006400" fill-opacity="0.48" stroke-opacity="0.5" stroke-width="1"><circle cx="121.5" cy="161.5" r="2.0"/><circle cx="119.3" cy="143.6" r="2.0"/></g>
<g fill="#ee82ee" stroke="#ee82ee" fill-opacity="0.55" stroke-opacity="0.45" stroke-width="1"><circle cx="120.4" cy="137.2" r="2.0"/></g>
<g fill="#006400" stroke="#006400" fill-opacity="0.48" stroke-opacity="0.5" stroke-width="1"><circle cx="122.5" cy="143.9" r="2.0"/><circle cx="143.5" cy="76.4" r="2.0"/><circle cx="118.5" cy="125.4" r="2.0"/><circle cx="124.0" cy="123.9" r="2.0"/></g>
<g fill="#ee82ee" stroke="#ee82ee" fill-opacity="0.55" stroke-opacity="0.45" stroke-width="1"><circle cx="118.1" cy="159.9" r="2.0"/></g>
<g fill="#006400" stroke="#006400" fill-opacity="0.48" stroke-opacity="0.5" stroke-width="1"><circle cx="124.9" cy="147.7" r="2.0"/></g>
<g fill="#ee82ee" stroke="#ee82ee" fill-opacity="0.55" stroke-opacity="0.45" stroke-width="1"><circle cx="120.6" cy="157.0" r="2.0"/><circle cx="121.7" cy="141.6" r="2.0"/></g>
<g fill="#006400" stroke="#006400" fill-opacity="0.48" stroke-opacity="0.5" stroke-width="1"><circle cx="135.6" cy="122.2" r="2.0"/><circle cx="117.0" cy="150.6" r="2.0"/><circle cx="125.8" cy="100.5" r="2.0"/><circle cx="116.9" cy="140.5" r="2.0"/><circle cx="117.2" cy="158.4" r="2.0"/><circle cx="130.0" cy="85.4" r="2.0"/></g>
<g fill="#ee82ee" stroke="#ee82ee" fill-opacity="0.55" stroke-opacity="0.45" stroke-width="1"><circle cx="118.7" cy="151.8" r="2.0"/></g>
<g fill="#006400" stroke="#006400" fill-opacity="0.48" stroke-opacity="0.5" stroke-width="1"><circle cx="129.1" cy="126.2" r="2.0"/><circle cx="115.8" cy="152.1" r="2.0"/><circle cx="127.7" cy="97.5" r="2.0"/></g>
<g fill="#ee82ee" stroke="#ee82ee" fill-opacity="0.55" stroke-opacity="0.45" stroke-width="1"><circle cx="123.6" cy="138.2" r="2.0"/><circle cx="121.4" cy="125.5" r="2.0"/></g>
<g fill="#006400" stroke="#006400" fill-opacity="0.48" stroke-opacity="0.5" stroke-width="1"><circle cx="127.3" cy="110.8" r="2.0"/><circle cx="118.7" cy="130.9" r="2.0"/><circle cx="123.0" cy="142.1" r="2.0"/></g>
<g fill="#ee82ee" stroke="#ee82ee" fill-opacity="0.55" stroke-opacity="0.45" stroke-width="1"><circle cx="117.8" cy="152.9" r="2.0"/></g>
<g fill="#006400" stroke="#006400" fill-opacity="0.48" stroke-opacity="0.5" stroke-width="1"><circle cx="116.7" cy="155.9" r="2.0"/><circle cx="117.9" cy="137.0" r="2.0"/><circle cx="119.5" cy="145.1" r="2.0"/><circle cx="123.2" cy="125.1" r="2.0"/></g>
<g fill="#ee82ee" stroke="#ee82ee" fill-opacity="0.55" stroke-opacity="0.45" stroke-width="1"><circle cx="118.5" cy="125.8" r="2.0"/></g>
<g fill="#006400" stroke="#006400" fill-opacity="0.48" stroke-opacity="0.5" stroke-width="1"><circle cx="115.8" cy="141.4" r="2.0"/><circle cx="116.3" cy="152.1" r="2.0"/></g>
<g fill="#ee82ee" stroke="#ee82ee" fill-opacity="0.55" stroke-opacity="0.45" stroke-width="1"><circle cx="161.1" cy="85.9" r="2.0"/></g>
<g fill="#006400" stroke="#006400" fill-opacity="0.48" stroke-opacity="0.5" stroke-width="1"><circle cx="126.3" cy="141.9" r="2.0"/><circle cx="169.1" cy="76.8" r="2.0"/><circle cx="121.4" cy="124.3" r="2.0"/><circle cx="117.3" cy="137.6" r="2.0"/><circle cx="124.5" cy="110.8" r="2.0"/></g>
<g fill="#ee82ee" stroke="#ee82ee" fill-opacity="0.55" stroke-opacity="0.45" stroke-width="1"><circle cx="164.5" cy="103.7" r="2.0"/><circle cx="119.5" cy="165.2" r="2.0"/></g>
<g fill="#006400" stroke="#006400" fill-opacity="0.48" stroke-opacity="0.5" stroke-width="1"><circle cx="123.6" cy="134.7" r="2.0"/><circle cx="137.9" cy="104.6" r="2.0"/><circle cx="120.2" cy="146.4" r="2.0"/></g>
<g fill="#ee82ee" stroke="#ee82ee" fill-opacity="0.55" stroke-opacity="0.45" stroke-width="1"><circle cx="117.0" cy="145.2" r="2.0"/><circle cx="117.2" cy="159.0" r="2.0"/></g>
<g fill="#006400" stroke="#006400" fill-opacity="0.48" stroke-opacity="0.5" stroke-width="1"><circle cx="119.9" cy="145.8" r="2.0"/><circle cx="131.5" cy="107.8" r="2.0"/></g>
<g fill="#ee82ee" stroke="#ee82ee" fill-opacity="0.55" stroke-opacity="0.45" stroke-width="1"><circle cx="118.4" cy="163.4" r="2.0"/></g>
<g fill="#006400" stroke="#006400" fill-opacity="0.48" stroke-opacity="0.5" stroke-width="1"><circle cx="125.1" cy="125.5" r="2.0"/><circle cx="120.4" cy="148.5" r="2.0"/></g>
<g fill="#ee82ee" stroke="#ee82ee" fill-opacity="0.55" stroke-opacity="0.45" stroke-width="1"><circle cx="117.2" cy="133.7" r="2.0"/></g>
<g fill="#006400" stroke="#006400" fill-opacity="0.48" stroke-opacity="0.5" stroke-width="1"><circle cx="116.8" cy="162.3" r="2.0"/></g>
<g fill="#ee82ee" stroke="#ee82ee" fill-opacity="0.55" stroke-opacity="0.45" stroke-width="1"><circle cx="141.8" cy="94.8" r="2.0"/><circle cx="132.3" cy="107.1" r="2.0"/><circle cx="117.0" cy="153.8" r="2.0"/></g>
<g fill="#006400" stroke="#006400" fill-opacity="0.48" stroke-opacity="0.5" stroke-width="1"><circle cx="121.0" cy="154.2" r="2.0"/><circle cx="117.4" cy="144.3" r="2.0"/></g>
<g fill="#ee82ee" stroke="#ee82ee" fill-opacity="0.55" stroke-opacity="0.45" stroke-width="1"><circle cx="132.2" cy="89.9" r="2.0"/></g>
<g fill="#006400" stroke="#006400" fill-opacity="0.48" stroke-opacity="0.5" stroke-width="1"><circle cx="119.9" cy="148.6" r="2.0"/></g>
<g fill="#ee82ee" stroke="#ee82ee" fill-opacity="0.55" stroke-opacity="0.45" stroke-width="1"><circle cx="133.9" cy="96.2" r="2.0"/><circle cx="138.8" cy="76.4" r="2.0"/><circle cx="166.8" cy="62.7" r="2.0"/></g>
<g fill="#006400" stroke="#006400" fill-opacity="0.48" stroke-opacity="0.5" stroke-width="1"><circle cx="121.7" cy="141.9" r="2.0"/></g>
<g fill="#ee82ee" stroke="#ee82ee" fill-opacity="0.55" stroke-opacity="0.45" stroke-width="1"><circle cx="116.7" cy="166.2" r="2.0"/></g>
<g fill="#006400" stroke="#006400" fill-opacity="0.48" stroke-opacity="0.5" stroke-width="1"><circle cx="118.8" cy="139.2" r="2.0"/><circle cx="126.4" cy="90.0" r="2.0"/><circle cx="147.4" cy="115.5" r="2.0"/><circle cx="123.3" cy="122.0" r="2.0"/><circle cx="119.7" cy="154.6" r="2.0"/></g>
<g fill="#ee82ee" stroke="#ee82ee" fill-opacity="0.55" stroke-opacity="0.45" stroke-width="1"><circle cx="138.9" cy="101.7" r="2.0"/></g>
<g fill="#006400" stroke="#006400" fill-opacity="0.48" stroke-opacity="0.5" stroke-width="1"><circle cx="117.3" cy="153.7" r="2.0"/><circle cx="117.9" cy="160.5" r="2.0"/><circle cx="116.2" cy="148.8" r="2.0"/><circle cx="118.2" cy="154.8" r="2.0"/></g>
<g fill="#ee82ee" stroke="#ee82ee" fill-opacity="0.55" stroke-opacity="0.45" stroke-width="1"><circle cx="178.7" cy="69.2" r="2.0"/></g>
<g fill="#006400" stroke="#006400" fill-opacity="0.48" stroke-opacity="0.5" stroke-width="1"><circle cx="124.7" cy="126.2" r="2.0"/></g>
<g fill="#ee82ee" stroke="#ee82ee" fill-opacity="0.55" stroke-opacity="0.45" stroke-width="1"><circle cx="122.9" cy="141.0" r="2.0"/></g>
<g fill="#006400" stroke="#006400" fill-opacity="0.48" stroke-opacity="0.5" stroke-width="1"><circle cx="118.5" cy="136.3" r="2.0"/><circle cx="191.2" cy="114.6" r="2.0"/><circle cx="120.9" cy="152.6" r="2.0"/><circle cx="126.3" cy="116.8" r="2.0"/><circle cx="131.3" cy="136.8" r="2.0"/></g>
<g fill="#ee82ee" stroke="#ee82ee" fill-opacity="0.55" stroke-opacity="0.45" stroke-width="1"><circle cx="116.0" cy="149.7" r="2.0"/></g>
<g fill="#006400" stroke="#006400" fill-opacity="0.48" stroke-opacity="0.5" stroke-width="1"><circle cx="118.4" cy="148.6" r="2.0"/><circle cx="128.0" cy="122.5" r="2.0"/></g>
<g fill="#ee82ee" stroke="#ee82ee" fill-opacity="0.55" stroke-opacity="0.45" stroke-width="1"><circle cx="118.6" cy="160.5" r="2.0"/></g>
<g fill="#006400" stroke="#006400" fill-opacity="0.48" stroke-opacity="0.5" stroke-width="1"><circle cx="120.3" cy="166.3" r="2.0"/><circle cx="122.2" cy="139.4" r="2.0"/><circle cx="118.5" cy="124.1" r="2.0"/></g>
<g fill="#ee82ee" stroke="#ee82ee" fill-opacity="0.55" stroke-opacity="0.45" stroke-width="1"><circle cx="120.0" cy="151.6" r="2.0"/><circle cx="116.8" cy="162.8" r="2.0"/></g>
<g fill="#006400" stroke="#006400" fill-opacity="0.48" stroke-opacity="0.5" stroke-width="1"><circle cx="117.4" cy="129.9" r="2.0"/><circle cx="123.5" cy="145.2" r="2.0"/><circle cx="118.5" cy="125.9" r="2.0"/><circle cx="116.4" cy="153.4" r="2.0"/><circle cx="120.0" cy="153.3" r="2.0"/><circle cx="117.8" cy="151.5" r="2.0"/><circle cx="129.3" cy="150.7" r="2.0"/></g>
<g fill="#ee82ee" stroke="#ee82ee" fill-opacity="0.55" stroke-opacity="0.45" stroke-width="1"><circle cx="141.8" cy="87.9" r="2.0"/></g>
<g fill="#006400" stroke="#006400" fill-opacity="0.48" stroke-opacity="0.5" stroke-width="1"><circle cx="152.5" cy="91.3" r="2.0"/><circle cx="118.4" cy="137.3" r="2.0"/><circle cx="120.1" cy="160.6" r="2.0"/></g>
<g fill="#ee82ee" stroke="#ee82ee" fill-opacity="0.55" stroke-opacity="0.45" stroke-width="1"><circle cx="124.5" cy="138.2" r="2.0"/><circle cx="116.9" cy="130.5" r="2.0"/><circle cx="119.2" cy="160.6" r="2.0"/><circle cx="171.7" cy="69.2" r="2.0"/></g>
<g fill="#006400" stroke="#006400" fill-opacity="0.48" stroke-opacity="0.5" stroke-width="1"><circle cx="118.5" cy="127.2" r="2.0"/></g>
<g fill="#ee82ee" stroke="#ee82ee" fill-opacity="0.55" stroke-opacity="0.45" stroke-width="1"><circle cx="114.5" cy="156.6" r="2.0"/></g>
<g fill="#006400" stroke="#006400" fill-opacity="0.48" stroke-opacity="0.5" stroke-width="1"><circle cx="180.9" cy="65.9" r="2.0"/><circle cx="118.5" cy="125.5" r="2.0"/></g>
<g fill="#ee82ee" stroke="#ee82ee" fill-opacity="0.55" stroke-opacity="0.45" stroke-width="1"><circle cx="119.1" cy="129.1" r="2.0"/><circle cx="119.7" cy="151.7" r="2.0"/></g>
<g fill="#006400" stroke="#006400" fill-opacity="0.48" stroke-opacity="0.5" stroke-width="1"><circle cx="127.8" cy="116.8" r="2.0"/><circle cx="124.2" cy="105.4" r="2.0"/><circle cx="125.8" cy="146.9" r="2.0"/></g>
<g fill="#ee82ee" stroke="#ee82ee" fill-opacity="0.55" stroke-opacity="0.45" stroke-width="1"><circle cx="156.7" cy="52.9" r="2.0"/></g>
<g fill="#006400" stroke="#006400" fill-opacity="0.48" stroke-opacity="0.5" stroke-width="1"><circle cx="119.2" cy="125.8" r="2.0"/></g>
<g fill="#ee82ee" stroke="#ee82ee" fill-opacity="0.55" stroke-opacity="0.45" stroke-width="1"><circle cx="116.8" cy="162.4" r="2.0"/><circle cx="183.9" cy="65.9" r="2.0"/></g>
<g fill="#006400" stroke="#006400" fill-opacity="0.48" stroke-opacity="0.5" stroke-width="1"><circle cx="117.2" cy="120.2" r="2.0"/><circle cx="118.5" cy="139.4" r="2.0"/><circle cx="124.4" cy="105.8" r="2.0"/><circle cx="133.5" cy="100.1" r="2.0"/><circle cx="118.6" cy="144.0" r="2.0"/><circle cx="116.9" cy="147.1" r="2.0"/><circle cx="127.4" cy="96.5" r="2.0"/><circle cx="116.7" cy="145.1" r="2.0"/><circle cx="128.3" cy="120.4" r="2.0"/></g>
<g fill="#ee82ee" stroke="#ee82ee" fill-opacity="0.55" stroke-opacity="0.45" stroke-width="1"><circle cx="145.8" cy="95.6" r="2.0"/><circle cx="158.9" cy="56.4" r="2.0"/></g>
<g fill="#006400" stroke="#006400" fill-opacity="0.48" stroke-opacity="0.5" stroke-width="1"><circle cx="117.8" cy="157.2" r="2.0"/><circle cx="160.8" cy="114.1" r="2.0"/><circle cx="118.5" cy="124.2" r="2.0"/></g>
<g fill="#ee82ee" stroke="#ee82ee" fill-opacity="0.55" stroke-opacity="0.45" stroke-width="1"><circle cx="117.7" cy="131.0" r="2.0"/></g>
<g fill="#006400" stroke="#006400" fill-opacity="0.48" stroke-opacity="0.5" stroke-width="1"><circle cx="115.9" cy="165.0" r="2.0"/></g>
<g fill="#ee82ee" stroke="#ee82ee" fill-opacity="0.55" stroke-opacity="0.45" stroke-width="1"><circle cx="117.3" cy="161.3" r="2.0"/></g>
<g fill="#006400" stroke="#006400" fill-opacity="0.48" stroke-opacity="0.5" stroke-width="1"><circle cx="116.2" cy="151.4" r="2.0"/></g>
<g fill="#ee82ee" stroke="#ee82ee" fill-opacity="0.55" stroke-opacity="0.45" stroke-width="1"><circle cx="117.7" cy="152.5" r="2.0"/></g>
<g fill="#006400" stroke="#006400" fill-opacity="0.48" stroke-opacity="0.5" stroke-width="1"><circle cx="120.4" cy="130.8" r="2.0"/><circle cx="119.4" cy="134.0" r="2.0"/><circle cx="118.5" cy="126.8" r="2.0"/></g>
<g fill="#ee82ee" stroke="#ee82ee" fill-opacity="0.55" stroke-opacity="0.45" stroke-width="1"><circle cx="117.2" cy="154.6" r="2.0"/></g>
<g fill="#006400" stroke="#006400" fill-opacity="0.48" stroke-opacity="0.5" stroke-width="1"><circle cx="118.0" cy="143.5" r="2.0"/></g>
<g fill="#ee82ee" stroke="#ee82ee" fill-opacity="0.55" stroke-opacity="0.45" stroke-width="1"><circle cx="129.0" cy="102.7" r="2.0"/></g>
<g fill="#006400" stroke="#006400" fill-opacity="0.48" stroke-opacity="0.5" stroke-width="1"><circle cx="134.3" cy="97.1" r="2.0"/><circle cx="116.2" cy="139.5" r="2.0"/><circle cx="155.6" cy="77.2" r="2.0"/><circle cx="120.3" cy="147.9" r="2.0"/><circle cx="117.0" cy="150.2" r="2.0"/><circle cx="116.3" cy="146.9" r="2.0"/><circle cx="118.9" cy="127.0" r="2.0"/><circle cx="124.8" cy="98.1" r="2.0"/><circle cx="119.7" cy="123.6" r="2.0"/><circle cx="120.8" cy="157.6" r="2.0"/></g>
<g fill="#ee82ee" stroke="#ee82ee" fill-opacity="0.55" stroke-opacity="0.45" stroke-width="1"><circle cx="117.8" cy="156.4" r="2.0"/><circle cx="126.3" cy="100.9" r="2.0"/></g>
<g fill="#006400" stroke="#006400" fill-opacity="0.48" stroke-opacity="0.5" stroke-width="1"><circle cx="125.4" cy="123.0" r="2.0"/><circle cx="145.8" cy="122.4" r="2.0"/></g>
<g fill="#ee82ee" stroke="#ee82ee" fill-opacity="0.55" stroke-opacity="0.45" stroke-width="1"><circle cx="115.7" cy="166.0" r="2.0"/></g>
<g fill="#006400" stroke="#006400" fill-opacity="0.48" stroke-opacity="0.5" stroke-width="1"><circle cx="118.8" cy="125.8" r="2.0"/></g>
<g fill="#ee82ee" stroke="#ee82ee" fill-opacity="0.55" stroke-opacity="0.45" stroke-width="1"><circle cx="118.4" cy="144.0" r="2.0"/></g>
<g fill="#006400" stroke="#006400" fill-opacity="0.48" stroke-opacity="0.5" stroke-width="1"><circle cx="143.5" cy="47.9" r="2.0"/></g>
<g fill="#ee82ee" stroke="#ee82ee" fill-opacity="0.55" stroke-opacity="0.45" stroke-width="1"><circle cx="118.6" cy="160.6" r="2.0"/></g>
<g fill="#006400" stroke="#006400" fill-opacity="0.48" stroke-opacity="0.5" stroke-width="1"><circle cx="120.9" cy="146.4" r="2.0"/><circle cx="115.7" cy="151.9" r="2.0"/><circle cx="124.0" cy="141.6" r="2.0"/><circle cx="118.4" cy="129.9" r="2.0"/><circle cx="121.0" cy="124.2" r="2.0"/><circle cx="116.5" cy="132.3" r="2.0"/><circle cx="131.6" cy="134.0" r="2.0"/><circle cx="119.9" cy="149.7" r="2.0"/><circle cx="118.8" cy="154.0" r="2.0"/><circle cx="128.1" cy="140.5" r="2.0"/><circle cx="118.6" cy="132.2" r="2.0"/></g>
<g fill="#ee82ee" stroke="#ee82ee" fill-opacity="0.55" stroke-opacity="0.45" stroke-width="1"><circle cx="127.5" cy="101.8" r="2.0"/><circle cx="148.4" cy="57.5" r="2.0"/></g>
<g fill="#006400" stroke="#006400" fill-opacity="0.48" stroke-opacity="0.5" stroke-width="1"><circle cx="123.1" cy="104.4" r="2.0"/><circle cx="120.8" cy="126.4" r="2.0"/></g>
<g fill="#ee82ee" stroke="#ee82ee" fill-opacity="0.55" stroke-opacity="0.45" stroke-width="1"><circle cx="118.5" cy="159.4" r="2.0"/></g>
<g fill="#006400" stroke="#006400" fill-opacity="0.48" stroke-opacity="0.5" stroke-width="1"><circle cx="130.7" cy="129.0" r="2.0"/></g>
<g fill="#ee82ee" stroke="#ee82ee" fill-opacity="0.55" stroke-opacity="0.45" stroke-width="1"><circle cx="180.0" cy="62.7" r="2.0"/></g>
<g fill="#006400" stroke="#006400" fill-opacity="0.48" stroke-opacity="0.5" stroke-width="1"><circle cx="122.4" cy="111.4" r="2.0"/><circle cx="116.3" cy="152.2" r="2.0"/><circle cx="122.8" cy="130.9" r="2.0"/></g>
<g fill="#ee82ee" stroke="#ee82ee" fill-opacity="0.55" stroke-opacity="0.45" stroke-width="1"><circle cx="150.4" cy="66.3" r="2.0"/></g>
<g fill="#006400" stroke="#006400" fill-opacity="0.48" stroke-opacity="0.5" stroke-width="1"><circle cx="115.9" cy="136.1" r="2.0"/></g>
<g fill="#ee82ee" stroke="#ee82ee" fill-opacity="0.55" stroke-opacity="0.45" stroke-width="1"><circle cx="133.0" cy="72.5" r="2.0"/><circle cx="120.8" cy="135.1" r="2.0"/><circle cx="147.1" cy="61.0" r="2.0"/></g>
<g fill="#006400" stroke="#006400" fill-opacity="0.48" stroke-opacity="0.5" stroke-width="1"><circle cx="120.2" cy="137.7" r="2.0"/><circle cx="116.7" cy="154.7" r="2.0"/><circle cx="116.0" cy="128.4" r="2.0"/><circle cx="137.4" cy="98.9" r="2.0"/></g>
<g fill="#ee82ee" stroke="#ee82ee" fill-opacity="0.55" stroke-opacity="0.45" stroke-width="1"><circle cx="134.9" cy="87.9" r="2.0"/><circle cx="119.2" cy="147.6" r="2.0"/><circle cx="117.5" cy="153.5" r="2.0"/></g>
<g fill="#006400" stroke="#006400" fill-opacity="0.48" stroke-opacity="0.5" stroke-width="1"><circle cx="131.0" cy="119.6" r="2.0"/></g>
<g fill="#ee82ee" stroke="#ee82ee" fill-opacity="0.55" stroke-opacity="0.45" stroke-width="1"><circle cx="116.3" cy="166.2" r="2.0"/></g>
<g fill="#006400" stroke="#006400" fill-opacity="0.48" stroke-opacity="0.5" stroke-width="1"><circle cx="124.7" cy="123.7" r="2.0"/><circle cx="129.6" cy="76.8" r="2.0"/><circle cx="117.0" cy="160.5" r="2.0"/><circle cx="120.9" cy="138.6" r="2.0"/></g>
<g fill="#ee82ee" stroke="#ee82ee" fill-opacity="0.55" stroke-opacity="0.45" stroke-width="1"><circle cx="130.0" cy="91.8" r="2.0"/></g>
<g fill="#006400" stroke="#006400" fill-opacity="0.48" stroke-opacity="0.5" stroke-width="1"><circle cx="118.9" cy="130.0" r="2.0"/><circle cx="119.0" cy="137.0" r="2.0"/></g>
<g fill="#ee82ee" stroke="#ee82ee" fill-opacity="0.55" stroke-opacity="0.45" stroke-width="1"><circle cx="155.7" cy="87.9" r="2.0"/><circle cx="117.6" cy="150.3" r="2.0"/><circle cx="143.8" cy="89.8" r="2.0"/></g>
<g fill="#006400" stroke="#006400" fill-opacity="0.48" stroke-opacity="0.5" stroke-width="1"><circle cx="118.9" cy="129.4" r="2.0"/><circle cx="116.9" cy="164.6" r="2.0"/></g>
<g fill="#ee82ee" stroke="#ee82ee" fill-opacity="0.55" stroke-opacity="0.45" stroke-width="1"><circle cx="122.0" cy="120.6" r="2.0"/><circle cx="130.4" cy="115.0" r="2.0"/></g>
<g fill="#006400" stroke="#006400" fill-opacity="0.48" stroke-opacity="0.5" stroke-width="1"><circle cx="118.5" cy="160.2" r="2.0"/></g>
<g fill="#ee82ee" stroke="#ee82ee" fill-opacity="0.55" stroke-opacity="0.45" stroke-width="1"><circle cx="117.3" cy="147.1" r="2.0"/><circle cx="152.5" cy="88.6" r="2.0"/></g>
<g fill="#006400" stroke="#006400" fill-opacity="0.48" stroke-opacity="0.5" stroke-width="1"><circle cx="130.8" cy="100.7" r="2.0"/><circle cx="120.3" cy="139.0" r="2.0"/><circle cx="119.7" cy="121.9" r="2.0"/><circle cx="117.3" cy="150.7" r="2.0"/></g>
<g fill="#ee82ee" stroke="#ee82ee" fill-opacity="0.55" stroke-opacity="0.45" stroke-width="1"><circle cx="136.3" cy="90.0" r="2.0"/></g>
<g fill="#006400" stroke="#006400" fill-opacity="0.48" stroke-opacity="0.5" stroke-width="1"><circle cx="120.9" cy="166.3" r="2.0"/></g>
<g fill="#ee82ee" stroke="#ee82ee" fill-opacity="0.55" stroke-opacity="0.45" stroke-width="1"><circle cx="131.7" cy="109.8" r="2.0"/></g>
<g fill="#006400" stroke="#006400" fill-opacity="0.48" stroke-opacity="0.5" stroke-width="1"><circle cx="132.6" cy="103.0" r="2.0"/><circle cx="119.1" cy="161.9" r="2.0"/><circle cx="117.4" cy="145.2" r="2.0"/></g>
<g fill="#ee82ee" stroke="#ee82ee" fill-opacity="0.55" stroke-opacity="0.45" stroke-width="1"><circle cx="167.2" cy="46.2" r="2.0"/><circle cx="162.5" cy="59.7" r="2.0"/></g>
<g fill="#006400" stroke="#006400" fill-opacity="0.48" stroke-opacity="0.5" stroke-width="1"><circle cx="120.8" cy="116.3" r="2.0"/></g>
<g fill="#ee82ee" stroke="#ee82ee" fill-opacity="0.55" stroke-opacity="0.45" stroke-width="1"><circle cx="122.2" cy="125.6" r="2.0"/></g>
<g fill="#006400" stroke="#006400" fill-opacity="0.48" stroke-opacity="0.5" stroke-width="1"><circle cx="151.7" cy="99.7" r="2.0"/><circle cx="117.0" cy="159.1" r="2.0"/><circle cx="119.6" cy="160.1" r="2.0"/></g>
<g fill="#ee82ee" stroke="#ee82ee" fill-opacity="0.55" stroke-opacity="0.45" stroke-width="1"><circle cx="150.5" cy="104.8" r="2.0"/></g>
<g fill="#006400" stroke="#006400" fill-opacity="0.48" stroke-opacity="0.5" stroke-width="1"><circle cx="116.8" cy="131.7" r="2.0"/><circle cx="119.5" cy="130.4" r="2.0"/><circle cx="120.8" cy="143.5" r="2.0"/><circle cx="220.1" cy="87.3" r="2.0"/><circle cx="125.5" cy="139.9" r="2.0"/></g>
<g fill="#ee82ee" stroke="#ee82ee" fill-opacity="0.55" stroke-opacity="0.45" stroke-width="1"><circle cx="140.3" cy="80.0" r="2.0"/></g>
<g fill="#006400" stroke="#006400" fill-opacity="0.48" stroke-opacity="0.5" stroke-width="1"><circle cx="117.4" cy="152.6" r="2.0"/><circle cx="118.5" cy="127.4" r="2.0"/></g>
<path d="M42.8 31.0V202.3H235.8" stroke="#222" stroke-width="1.1" fill="none"/>
<path d="M38.3 194.40H42.8M38.3 149.80H42.8M38.3 105.20H42.8M38.3 60.60H42.8M51.40 202.3v5M110.00 202.3v5M168.60 202.3v5M227.20 202.3v5" stroke="#222" stroke-width="1.1" fill="none"/>
<text x="32.599999999999994" y="199.40" font-size="14" text-anchor="end">0</text>
<text x="32.599999999999994" y="154.80" font-size="14" text-anchor="end">2</text>
<text x="32.599999999999994" y="110.20" font-size="14" text-anchor="end">4</text>
<text x="32.599999999999994" y="65.60" font-size="14" text-anchor="end">6</text>
<path d="M44.2 217.3H50.9" stroke="#111" stroke-width="1.15"/>
<text x="51.7" y="221" font-size="14">5</text>
<text x="110.20" y="221" font-size="14" text-anchor="middle">0</text>
<text x="169.60" y="221" font-size="14" text-anchor="middle">5</text>
<text x="228.20" y="221" font-size="14" text-anchor="middle">10</text>
<text x="45.4" y="21.9" font-size="14.3" textLength="179.4" lengthAdjust="spacingAndGlyphs">GTP gelfil.lysate experiment</text>
<text x="-0.6" y="14.9" font-size="19.5" font-weight="bold">a</text>
<text transform="translate(11.8 183.2) rotate(-90)" font-size="13.5">Log<tspan font-size="9.5" dy="2.8">2</tspan><tspan dy="-2.8"> (</tspan><tspan dx="0.8" font-style="italic" font-size="14.5">F</tspan><tspan letter-spacing="0.28">-statistic + 1)</tspan></text>
<text x="65.3" y="245.6" font-size="12.5">Sign</text>
<text x="90.4" y="247" font-size="15.5" font-family="Liberation Serif" style="font-family:'Liberation Serif'">(</text>
<text x="94.5" y="245.8" font-size="13.6" style="font-family:'Liberation Serif'">κ</text>
<text x="102.4" y="247" font-size="15.5" style="font-family:'Liberation Serif'">)</text>
<circle cx="111.8" cy="242.2" r="0.75" fill="#1a1a1a"/>
<path d="M114.4 242.6l1.6 -0.9l1.5 4.9l3 -14.6H209.4" stroke="#1a1a1a" stroke-width="1.15" fill="none" stroke-linejoin="miter"/>
<text x="125.4" y="245.8" font-size="12.5">RSS</text>
<text x="151.5" y="240.5" font-size="8.8">0</text>
<text x="159.7" y="245.8" font-size="12.5">–</text>
<text x="170.6" y="245.8" font-size="12.5">RSS</text>
<text x="196.8" y="240.3" font-size="8.8">1</text>
<text x="264" y="14.8" font-size="19.5" font-weight="bold">b</text>
<path d="M410.30 36.2V202.3M451.77 36.2V202.3M493.24 36.2V202.3M534.71 36.2V202.3M576.18 36.2V202.3M617.65 36.2V202.3M659.12 36.2V202.3M385.3 195.00H684.5M385.3 179.89H684.5M385.3 164.78H684.5M385.3 149.67H684.5M385.3 134.56H684.5M385.3 119.45H684.5M385.3 104.34H684.5M385.3 89.23H684.5M385.3 74.12H684.5M385.3 59.01H684.5M385.3 43.90H684.5" stroke="#ebebeb" stroke-width="0.9" fill="none"/>
<rect x="391.60" y="192.28" width="37.4" height="2.72" fill="#00CED1"/>
<rect x="391.60" y="180.19" width="37.4" height="12.09" fill="#A52A2A"/>
<rect x="391.60" y="171.13" width="37.4" height="9.07" fill="#BEBEBE"/>
<rect x="391.60" y="161.76" width="37.4" height="9.37" fill="#DAA520"/>
<rect x="391.60" y="147.25" width="37.4" height="14.51" fill="#EE82EE"/>
<rect x="391.60" y="56.59" width="37.4" height="90.66" fill="#006400"/>
<text x="410.30" y="53.99" font-size="12.3" text-anchor="middle">458</text>
<rect x="433.07" y="187.14" width="37.4" height="7.86" fill="#00CED1"/>
<rect x="433.07" y="184.12" width="37.4" height="3.02" fill="#A52A2A"/>
<rect x="433.07" y="130.33" width="37.4" height="53.79" fill="#BEBEBE"/>
<rect x="433.07" y="103.74" width="37.4" height="26.59" fill="#DAA520"/>
<text x="451.77" y="101.14" font-size="12.3" text-anchor="middle">302</text>
<rect x="474.54" y="193.79" width="37.4" height="1.21" fill="#00CED1"/>
<rect x="474.54" y="188.96" width="37.4" height="4.84" fill="#BEBEBE"/>
<rect x="474.54" y="180.19" width="37.4" height="8.76" fill="#DAA520"/>
<text x="493.24" y="177.59" font-size="12.3" text-anchor="middle">49</text>
<rect x="516.01" y="194.09" width="37.4" height="0.91" fill="#00CED1"/>
<rect x="516.01" y="191.37" width="37.4" height="2.72" fill="#A52A2A"/>
<rect x="516.01" y="185.33" width="37.4" height="6.04" fill="#EE82EE"/>
<rect x="516.01" y="163.27" width="37.4" height="22.06" fill="#006400"/>
<text x="534.71" y="160.67" font-size="12.3" text-anchor="middle">105</text>
<rect x="557.48" y="194.09" width="37.4" height="0.91" fill="#A52A2A"/>
<rect x="557.48" y="191.37" width="37.4" height="2.72" fill="#EE82EE"/>
<rect x="557.48" y="178.38" width="37.4" height="12.99" fill="#006400"/>
<text x="576.18" y="175.78" font-size="12.3" text-anchor="middle">55</text>
<rect x="598.95" y="193.19" width="37.4" height="1.81" fill="#00CED1"/>
<rect x="598.95" y="187.14" width="37.4" height="6.04" fill="#BEBEBE"/>
<rect x="598.95" y="183.82" width="37.4" height="3.32" fill="#DAA520"/>
<text x="617.65" y="181.22" font-size="12.3" text-anchor="middle">37</text>
<rect x="640.42" y="194.09" width="37.4" height="0.91" fill="#A52A2A"/>
<rect x="640.42" y="174.45" width="37.4" height="19.64" fill="#EE82EE"/>
<rect x="640.42" y="155.41" width="37.4" height="19.04" fill="#006400"/>
<text x="659.12" y="152.81" font-size="12.3" text-anchor="middle">131</text>
<path d="M385.3 36.2V202.3H684.5" stroke="#222" stroke-width="1.1" fill="none"/>
<path d="M382.5 195.00H385.3M382.5 164.78H385.3M382.5 134.56H385.3M382.5 104.34H385.3M382.5 74.12H385.3M382.5 43.90H385.3M410.30 202.3v2.5M451.77 202.3v2.5M493.24 202.3v2.5M534.71 202.3v2.5M576.18 202.3v2.5M617.65 202.3v2.5M659.12 202.3v2.5" stroke="#222" stroke-width="1.1" fill="none"/>
<text x="377.30" y="200.20" font-size="13.8" text-anchor="end">0</text>
<text x="377.30" y="169.98" font-size="13.8" text-anchor="end">100</text>
<text x="377.30" y="139.76" font-size="13.8" text-anchor="end">200</text>
<text x="377.30" y="109.54" font-size="13.8" text-anchor="end">300</text>
<text x="377.30" y="79.32" font-size="13.8" text-anchor="end">400</text>
<text x="377.30" y="49.10" font-size="13.8" text-anchor="end">500</text>
<text transform="translate(341.3 122) rotate(-90)" font-size="13.8" text-anchor="middle">Count</text>
<rect x="385.3" y="207.7" width="299.2" height="11.6" fill="#f5f5f5"/>
<rect x="385.3" y="230.9" width="299.2" height="11.6" fill="#f5f5f5"/>
<text x="379.3" y="217.10" font-size="10.2" text-anchor="end">DLPTP hits at 10% FDR</text>
<text x="379.3" y="228.70" font-size="10.2" text-anchor="end">Nucleotide binders</text>
<text x="379.3" y="240.30" font-size="10.2" text-anchor="end">Threshold-based hits</text>
<circle cx="410.30" cy="213.5" r="4.6" fill="#dbdbdb"/>
<circle cx="410.30" cy="236.7" r="4.6" fill="#dbdbdb"/>
<circle cx="410.30" cy="225.1" r="4.6" fill="#000"/>
<circle cx="451.77" cy="225.1" r="4.6" fill="#dbdbdb"/>
<circle cx="451.77" cy="236.7" r="4.6" fill="#dbdbdb"/>
<circle cx="451.77" cy="213.5" r="4.6" fill="#000"/>
<circle cx="493.24" cy="213.5" r="4.6" fill="#dbdbdb"/>
<circle cx="493.24" cy="225.1" r="4.6" fill="#dbdbdb"/>
<circle cx="493.24" cy="236.7" r="4.6" fill="#000"/>
<circle cx="534.71" cy="236.7" r="4.6" fill="#dbdbdb"/>
<path d="M534.71 213.5V225.1" stroke="#000" stroke-width="2.4"/>
<circle cx="534.71" cy="213.5" r="4.6" fill="#000"/>
<circle cx="534.71" cy="225.1" r="4.6" fill="#000"/>
<circle cx="576.18" cy="213.5" r="4.6" fill="#dbdbdb"/>
<path d="M576.18 225.1V236.7" stroke="#000" stroke-width="2.4"/>
<circle cx="576.18" cy="225.1" r="4.6" fill="#000"/>
<circle cx="576.18" cy="236.7" r="4.6" fill="#000"/>
<circle cx="617.65" cy="225.1" r="4.6" fill="#dbdbdb"/>
<path d="M617.65 213.5V236.7" stroke="#000" stroke-width="2.4"/>
<circle cx="617.65" cy="213.5" r="4.6" fill="#000"/>
<circle cx="617.65" cy="236.7" r="4.6" fill="#000"/>
<path d="M659.12 213.5V236.7" stroke="#000" stroke-width="2.4"/>
<circle cx="659.12" cy="213.5" r="4.6" fill="#000"/>
<circle cx="659.12" cy="225.1" r="4.6" fill="#000"/>
<circle cx="659.12" cy="236.7" r="4.6" fill="#000"/>
<text x="116.5" y="288.1" font-size="14">GO annotation</text>
<rect x="216" y="267.5" width="17.2" height="17.2" fill="#006400"/>
<text x="237.6" y="278.90" font-size="10.3" textLength="55.6" lengthAdjust="spacingAndGlyphs">ATP binding</text>
<rect x="216" y="286.8" width="17.2" height="17.2" fill="#EE82EE"/>
<text x="237.5" y="298.20" font-size="10.3" textLength="56.6" lengthAdjust="spacingAndGlyphs">GTP binding</text>
<rect x="340.8" y="267.5" width="17.2" height="17.2" fill="#DAA520"/>
<text x="362.1" y="278.90" font-size="10.3" textLength="88.5" lengthAdjust="spacingAndGlyphs">Nucleic acid bindng</text>
<rect x="340.8" y="286.8" width="17.2" height="17.2" fill="#BEBEBE"/>
<text x="362.0" y="298.20" font-size="10.3" textLength="26.0" lengthAdjust="spacingAndGlyphs">Other</text>
<rect x="465.8" y="267.5" width="17.2" height="17.2" fill="#A52A2A"/>
<text x="486.8" y="278.90" font-size="10.3" textLength="111.0" lengthAdjust="spacingAndGlyphs">Oxidoreductase activity</text>
<rect x="465.8" y="286.8" width="17.2" height="17.2" fill="#00CED1"/>
<text x="486.8" y="298.20" font-size="10.3" textLength="89.1" lengthAdjust="spacingAndGlyphs">Regulatory subunit</text>
</svg></body></html>
